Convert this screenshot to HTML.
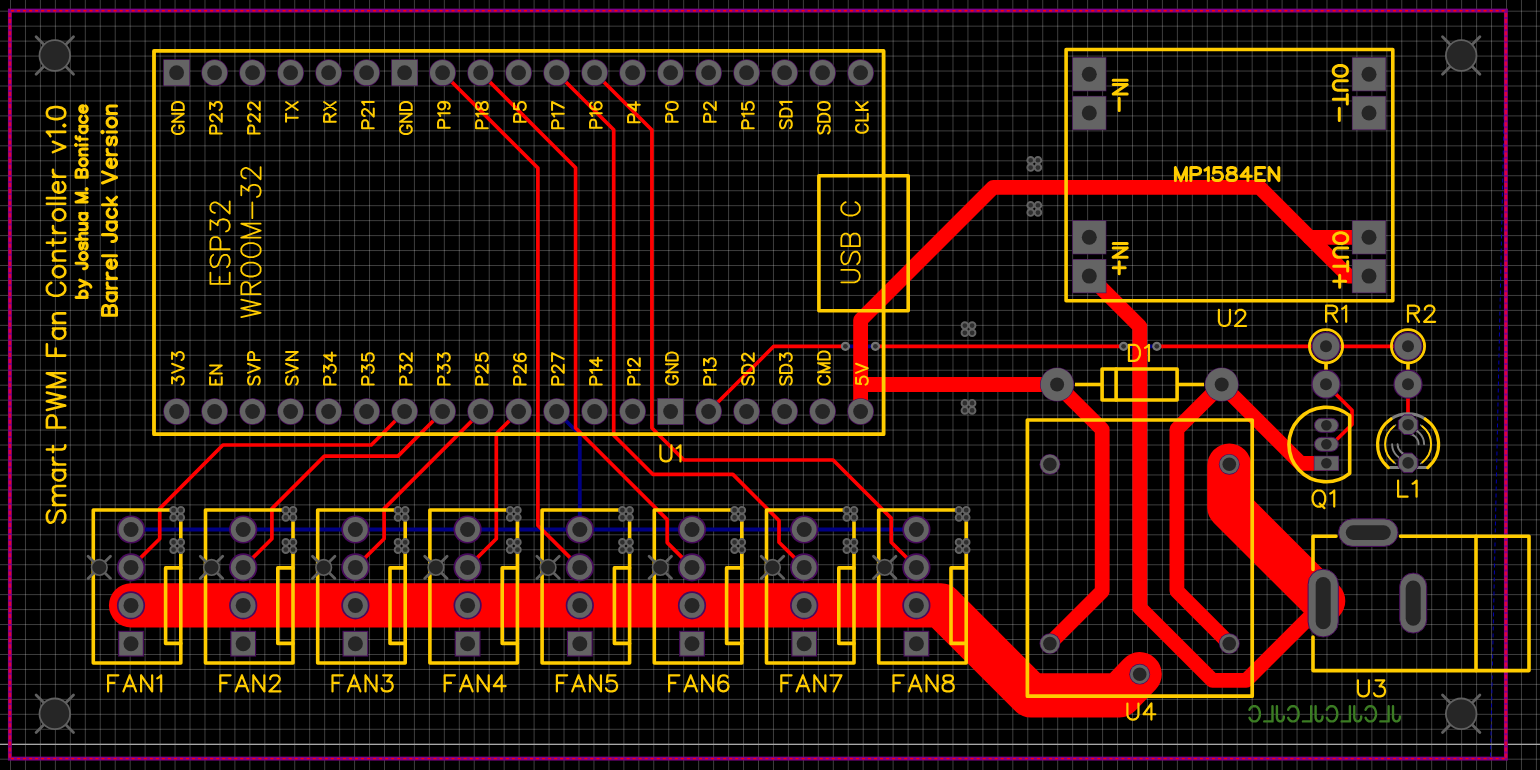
<!DOCTYPE html>
<html><head><meta charset="utf-8"><title>Smart PWM Fan Controller v1.0 - PCB</title>
<style>html,body{margin:0;padding:0;background:#000;overflow:hidden}svg{display:block}body{font-family:"Liberation Sans",sans-serif}</style>
</head><body>
<svg width="1540" height="770" viewBox="0 0 1540 770">
<rect width="1540" height="770" fill="#000"/>
<g fill="none" stroke="#fff" stroke-width="1" stroke-opacity="0.245"><path d="M10.50,0V770M25.46,0V770M40.42,0V770M55.38,0V770M70.34,0V770M85.30,0V770M100.26,0V770M115.22,0V770M130.18,0V770M145.14,0V770M160.10,0V770M175.06,0V770M190.02,0V770M204.98,0V770M219.94,0V770M234.90,0V770M249.86,0V770M264.82,0V770M279.78,0V770M294.74,0V770M309.70,0V770M324.66,0V770M339.62,0V770M354.58,0V770M369.54,0V770M384.50,0V770M399.46,0V770M414.42,0V770M429.38,0V770M444.34,0V770M459.30,0V770M474.26,0V770M489.22,0V770M504.18,0V770M519.14,0V770M534.10,0V770M549.06,0V770M564.02,0V770M578.98,0V770M593.94,0V770M608.90,0V770M623.86,0V770M638.82,0V770M653.78,0V770M668.74,0V770M683.70,0V770M698.66,0V770M713.62,0V770M728.58,0V770M743.54,0V770M758.50,0V770M773.46,0V770M788.42,0V770M803.38,0V770M818.34,0V770M833.30,0V770M848.26,0V770M863.22,0V770M878.18,0V770M893.14,0V770M908.10,0V770M923.06,0V770M938.02,0V770M952.98,0V770M967.94,0V770M982.90,0V770M997.86,0V770M1012.82,0V770M1027.78,0V770M1042.74,0V770M1057.70,0V770M1072.66,0V770M1087.62,0V770M1102.58,0V770M1117.54,0V770M1132.50,0V770M1147.46,0V770M1162.42,0V770M1177.38,0V770M1192.34,0V770M1207.30,0V770M1222.26,0V770M1237.22,0V770M1252.18,0V770M1267.14,0V770M1282.10,0V770M1297.06,0V770M1312.02,0V770M1326.98,0V770M1341.94,0V770M1356.90,0V770M1371.86,0V770M1386.82,0V770M1401.78,0V770M1416.74,0V770M1431.70,0V770M1446.66,0V770M1461.62,0V770M1476.58,0V770M1491.54,0V770M1506.50,0V770M1521.46,0V770M1536.42,0V770"/><path d="M0,11.20H1540M0,26.16H1540M0,41.12H1540M0,56.08H1540M0,71.04H1540M0,86.00H1540M0,100.96H1540M0,115.92H1540M0,130.88H1540M0,145.84H1540M0,160.80H1540M0,175.76H1540M0,190.72H1540M0,205.68H1540M0,220.64H1540M0,235.60H1540M0,250.56H1540M0,265.52H1540M0,280.48H1540M0,295.44H1540M0,310.40H1540M0,325.36H1540M0,340.32H1540M0,355.28H1540M0,370.24H1540M0,385.20H1540M0,400.16H1540M0,415.12H1540M0,430.08H1540M0,445.04H1540M0,460.00H1540M0,474.96H1540M0,489.92H1540M0,504.88H1540M0,519.84H1540M0,534.80H1540M0,549.76H1540M0,564.72H1540M0,579.68H1540M0,594.64H1540M0,609.60H1540M0,624.56H1540M0,639.52H1540M0,654.48H1540M0,669.44H1540M0,684.40H1540M0,699.36H1540M0,714.32H1540M0,729.28H1540M0,744.24H1540M0,759.20H1540"/></g>
<path d="M0,744.4H1540" stroke="#a8a8a8" stroke-width="1.1" fill="none"/>
<path d="M1506.3,10.6L1490.5,757.5" stroke="#0000b0" stroke-width="1" stroke-dasharray="4,3" fill="none"/>
<rect x="9.9" y="10.6" width="1496" height="748" fill="none" stroke="#800088" stroke-width="3.9"/>
<path d="M11,10.7H1505.9M11,758.6H1505.9" fill="none" stroke="#ff0000" stroke-width="1.4" stroke-dasharray="3,3.035"/>
<path d="M9.9,13V758M1505.9,13V758" fill="none" stroke="#e00038" stroke-width="2.5" stroke-dasharray="4.1,1.97"/>
<path d="M131.0,529.5 L916.4,529.5" stroke="#000084" stroke-width="3.80" fill="none" stroke-linecap="round" stroke-linejoin="round" />
<path d="M556.6,411.5 L579.8,434.7 L579.8,529.5" stroke="#000084" stroke-width="3.80" fill="none" stroke-linecap="round" stroke-linejoin="round" />
<path d="M845.4,346.3 L875.4,346.3" stroke="#000084" stroke-width="3.80" fill="none" stroke-linecap="round" stroke-linejoin="round" />
<path d="M1123.6,346.3 L1156.8,346.3" stroke="#000084" stroke-width="3.80" fill="none" stroke-linecap="round" stroke-linejoin="round" />
<path d="M131.0,567.4 L159.7,538.7 L159.7,508.6 L222.9,445.0 L371.3,445.0 L404.6,411.5" stroke="#ff0000" stroke-width="3.70" fill="none" stroke-linecap="round" stroke-linejoin="round" />
<path d="M243.2,567.4 L271.9,538.7 L271.9,508.6 L324.4,456.1 L398.0,456.1 L442.6,411.5" stroke="#ff0000" stroke-width="3.70" fill="none" stroke-linecap="round" stroke-linejoin="round" />
<path d="M355.4,567.4 L384.1,538.7 L384.1,508.6 L480.6,412.1" stroke="#ff0000" stroke-width="3.70" fill="none" stroke-linecap="round" stroke-linejoin="round" />
<path d="M467.6,567.4 L496.3,538.7 L496.3,433.8 L518.6,411.5" stroke="#ff0000" stroke-width="3.70" fill="none" stroke-linecap="round" stroke-linejoin="round" />
<path d="M442.6,72.7 L537.9,168.0 L537.9,525.5 L579.8,567.4" stroke="#ff0000" stroke-width="3.70" fill="none" stroke-linecap="round" stroke-linejoin="round" />
<path d="M480.6,72.7 L575.6,167.7 L575.6,428.0 L667.2,519.6 L667.2,542.6 L692.0,567.4" stroke="#ff0000" stroke-width="3.70" fill="none" stroke-linecap="round" stroke-linejoin="round" />
<path d="M556.6,72.7 L613.7,129.8 L613.7,435.2 L652.8,474.3 L732.9,474.4 L779.0,520.5 L779.0,542.2 L804.2,567.4" stroke="#ff0000" stroke-width="3.70" fill="none" stroke-linecap="round" stroke-linejoin="round" />
<path d="M594.6,72.7 L651.9,130.0 L651.9,428.0 L683.9,460.0 L833.1,460.0 L891.2,518.1 L891.2,542.2 L916.4,567.4" stroke="#ff0000" stroke-width="3.70" fill="none" stroke-linecap="round" stroke-linejoin="round" />
<path d="M708.6,411.5 L773.8,346.3 L845.4,346.3" stroke="#ff0000" stroke-width="3.70" fill="none" stroke-linecap="round" stroke-linejoin="round" />
<path d="M875.4,346.3 L1123.6,346.3" stroke="#ff0000" stroke-width="3.70" fill="none" stroke-linecap="round" stroke-linejoin="round" />
<path d="M1156.8,346.3 L1326.0,346.3 L1408.0,346.3" stroke="#ff0000" stroke-width="3.70" fill="none" stroke-linecap="round" stroke-linejoin="round" />
<path d="M1326.0,384.2 L1352.0,410.2 L1352.0,424.5 L1332.0,444.3" stroke="#ff0000" stroke-width="3.70" fill="none" stroke-linecap="round" stroke-linejoin="round" />
<path d="M1408.0,384.2 L1408.0,424.7" stroke="#ff0000" stroke-width="3.70" fill="none" stroke-linecap="round" stroke-linejoin="round" />
<path d="M860.6,411.5 L860.6,319.9 L993.3,187.3 L1259.5,187.3 L1348.3,276.1 L1369.0,276.1" stroke="#ff0000" stroke-width="14.80" fill="none" stroke-linecap="round" stroke-linejoin="round" />
<path d="M1309.5,237.3 L1369.0,237.3" stroke="#ff0000" stroke-width="14.80" fill="none" stroke-linecap="round" stroke-linejoin="round" />
<path d="M860.6,384.5 L1057.1,384.5" stroke="#ff0000" stroke-width="14.80" fill="none" stroke-linecap="round" stroke-linejoin="round" />
<path d="M1057.1,384.5 L1102.2,429.6 L1102.2,591.3 L1049.9,643.6" stroke="#ff0000" stroke-width="14.80" fill="none" stroke-linecap="round" stroke-linejoin="round" />
<path d="M1089.3,276.1 L1139.8,326.6 L1139.8,607.7 L1212.4,680.3 L1246.3,680.3 L1323.2,603.4" stroke="#ff0000" stroke-width="14.80" fill="none" stroke-linecap="round" stroke-linejoin="round" />
<path d="M1221.7,384.5 L1176.9,429.3 L1176.9,591.1 L1229.3,643.6" stroke="#ff0000" stroke-width="14.80" fill="none" stroke-linecap="round" stroke-linejoin="round" />
<path d="M1221.7,384.5 L1300.5,463.3 L1326.4,463.3" stroke="#ff0000" stroke-width="14.80" fill="none" stroke-linecap="round" stroke-linejoin="round" />
<path d="M131.0,605.4 L941.0,605.4 L1030.9,695.3 L1119.5,695.3 L1139.7,674.2" stroke="#ff0000" stroke-width="44.20" fill="none" stroke-linecap="round" stroke-linejoin="round" />
<path d="M1229.3,465.6 L1229.3,507.0 L1323.2,600.9" stroke="#ff0000" stroke-width="44.20" fill="none" stroke-linecap="round" stroke-linejoin="round" />
<circle cx="845.4" cy="346.3" r="4.6" fill="#747474"/><circle cx="845.4" cy="346.3" r="2.4" fill="#2e2e2e"/>
<circle cx="875.4" cy="346.3" r="4.6" fill="#747474"/><circle cx="875.4" cy="346.3" r="2.4" fill="#2e2e2e"/>
<circle cx="1123.6" cy="346.3" r="4.6" fill="#747474"/><circle cx="1123.6" cy="346.3" r="2.4" fill="#2e2e2e"/>
<circle cx="1156.8" cy="346.3" r="4.6" fill="#747474"/><circle cx="1156.8" cy="346.3" r="2.4" fill="#2e2e2e"/>
<rect x="154.0" y="50.9" width="729.6" height="383.3" stroke="#ffcc00" stroke-width="3.80" fill="none" stroke-linejoin="round"/>
<rect x="818.9" y="175.7" width="89.3" height="135.1" stroke="#ffcc00" stroke-width="3.60" fill="none" stroke-linejoin="round"/>
<rect x="1066.1" y="49.5" width="326.7" height="251.2" stroke="#ffcc00" stroke-width="3.60" fill="none" stroke-linejoin="round"/>
<rect x="1102.1" y="369.0" width="75.0" height="31.0" stroke="#ffcc00" stroke-width="3.60" fill="none" stroke-linejoin="round"/>
<path d="M1116.1,369.0 L1116.1,400.0" stroke="#ffcc00" stroke-width="3.60" fill="none" stroke-linecap="round" stroke-linejoin="round"/>
<path d="M1075.0,384.5 L1102.0,384.5" stroke="#ffcc00" stroke-width="3.60" fill="none" stroke-linecap="butt" stroke-linejoin="round"/>
<path d="M1177.0,384.5 L1204.0,384.5" stroke="#ffcc00" stroke-width="3.60" fill="none" stroke-linecap="butt" stroke-linejoin="round"/>
<rect x="1027.4" y="420.0" width="224.8" height="276.2" stroke="#ffcc00" stroke-width="3.70" fill="none" stroke-linejoin="round"/>
<path d="M1336.0,536.2 L1313.0,536.2 L1313.0,569.4" stroke="#ffcc00" stroke-width="3.60" fill="none" stroke-linecap="round" stroke-linejoin="round"/>
<path d="M1313.0,637.0 L1313.0,670.6 L1529.0,670.6 L1529.0,536.2 L1400.5,536.2" stroke="#ffcc00" stroke-width="3.60" fill="none" stroke-linecap="round" stroke-linejoin="round"/>
<path d="M1476.0,536.2 L1476.0,670.6" stroke="#ffcc00" stroke-width="3.60" fill="none" stroke-linecap="round" stroke-linejoin="round"/>
<path d="M169.5,510.0 L93.3,510.0 L93.3,663.0 L180.8,663.0 L180.8,522.0" stroke="#ffcc00" stroke-width="3.60" fill="none" stroke-linecap="round" stroke-linejoin="round"/>
<path d="M180.8,567.9 L165.6,567.9 L165.6,643.4 L180.8,643.4" stroke="#ffcc00" stroke-width="3.60" fill="none" stroke-linecap="round" stroke-linejoin="round"/>
<path d="M281.7,510.0 L205.5,510.0 L205.5,663.0 L293.0,663.0 L293.0,522.0" stroke="#ffcc00" stroke-width="3.60" fill="none" stroke-linecap="round" stroke-linejoin="round"/>
<path d="M293.0,567.9 L277.8,567.9 L277.8,643.4 L293.0,643.4" stroke="#ffcc00" stroke-width="3.60" fill="none" stroke-linecap="round" stroke-linejoin="round"/>
<path d="M393.9,510.0 L317.7,510.0 L317.7,663.0 L405.2,663.0 L405.2,522.0" stroke="#ffcc00" stroke-width="3.60" fill="none" stroke-linecap="round" stroke-linejoin="round"/>
<path d="M405.2,567.9 L390.0,567.9 L390.0,643.4 L405.2,643.4" stroke="#ffcc00" stroke-width="3.60" fill="none" stroke-linecap="round" stroke-linejoin="round"/>
<path d="M506.1,510.0 L429.9,510.0 L429.9,663.0 L517.4,663.0 L517.4,522.0" stroke="#ffcc00" stroke-width="3.60" fill="none" stroke-linecap="round" stroke-linejoin="round"/>
<path d="M517.4,567.9 L502.2,567.9 L502.2,643.4 L517.4,643.4" stroke="#ffcc00" stroke-width="3.60" fill="none" stroke-linecap="round" stroke-linejoin="round"/>
<path d="M618.3,510.0 L542.1,510.0 L542.1,663.0 L629.6,663.0 L629.6,522.0" stroke="#ffcc00" stroke-width="3.60" fill="none" stroke-linecap="round" stroke-linejoin="round"/>
<path d="M629.6,567.9 L614.4,567.9 L614.4,643.4 L629.6,643.4" stroke="#ffcc00" stroke-width="3.60" fill="none" stroke-linecap="round" stroke-linejoin="round"/>
<path d="M730.5,510.0 L654.3,510.0 L654.3,663.0 L741.8,663.0 L741.8,522.0" stroke="#ffcc00" stroke-width="3.60" fill="none" stroke-linecap="round" stroke-linejoin="round"/>
<path d="M741.8,567.9 L726.6,567.9 L726.6,643.4 L741.8,643.4" stroke="#ffcc00" stroke-width="3.60" fill="none" stroke-linecap="round" stroke-linejoin="round"/>
<path d="M842.7,510.0 L766.5,510.0 L766.5,663.0 L854.0,663.0 L854.0,522.0" stroke="#ffcc00" stroke-width="3.60" fill="none" stroke-linecap="round" stroke-linejoin="round"/>
<path d="M854.0,567.9 L838.8,567.9 L838.8,643.4 L854.0,643.4" stroke="#ffcc00" stroke-width="3.60" fill="none" stroke-linecap="round" stroke-linejoin="round"/>
<path d="M954.9,510.0 L878.7,510.0 L878.7,663.0 L966.2,663.0 L966.2,522.0" stroke="#ffcc00" stroke-width="3.60" fill="none" stroke-linecap="round" stroke-linejoin="round"/>
<path d="M966.2,567.9 L951.0,567.9 L951.0,643.4 L966.2,643.4" stroke="#ffcc00" stroke-width="3.60" fill="none" stroke-linecap="round" stroke-linejoin="round"/>
<circle cx="1326.0" cy="346.3" r="16.6" stroke="#ffcc00" stroke-width="2.8" fill="none"/>
<path d="M1326.0,363.5 L1326.0,370.0" stroke="#ffcc00" stroke-width="3.60" fill="none" stroke-linecap="butt" stroke-linejoin="round"/>
<circle cx="1408.0" cy="346.3" r="16.6" stroke="#ffcc00" stroke-width="2.8" fill="none"/>
<path d="M1408.0,363.5 L1408.0,370.0" stroke="#ffcc00" stroke-width="3.60" fill="none" stroke-linecap="butt" stroke-linejoin="round"/>
<path d="M1349.7,415.7 A37.2,37.2 0 1 0 1349.7,473.3 Z" stroke="#ffcc00" stroke-width="3.60" fill="none" stroke-linejoin="round"/>
<path d="M1391.04,419.01 A30.50,30.50 0 0 1 1425.16,419.01" stroke="#808080" stroke-width="3.00" fill="none" stroke-linecap="round"/>
<path d="M1389.5,467.6 L1427.0,467.6" stroke="#808080" stroke-width="3.00" fill="none" stroke-linecap="butt" stroke-linejoin="round"/>
<path d="M1425.16,419.01 A30.50,30.50 0 0 1 1427.71,467.66" stroke="#ffcc00" stroke-width="3.20" fill="none" stroke-linecap="round"/>
<path d="M1388.49,467.66 A30.50,30.50 0 0 1 1391.04,419.01" stroke="#ffcc00" stroke-width="3.20" fill="none" stroke-linecap="round"/>
<path d="M1420.63,425.01 A23.00,23.00 0 0 1 1420.63,463.59" stroke="#808080" stroke-width="1.50" fill="none" stroke-linecap="round"/>
<path d="M1395.57,463.59 A23.00,23.00 0 0 1 1395.57,425.01" stroke="#808080" stroke-width="1.50" fill="none" stroke-linecap="round"/>
<path d="M1422.26,426.18 A23.00,23.00 0 0 1 1422.26,462.42" stroke="#ffcc00" stroke-width="1.90" fill="none" stroke-linecap="round"/>
<path d="M1393.94,462.42 A23.00,23.00 0 0 1 1393.94,426.18" stroke="#ffcc00" stroke-width="1.90" fill="none" stroke-linecap="round"/>
<path d="M1408.10,428.30 A16.00,16.00 0 0 1 1424.10,444.30" stroke="#808080" stroke-width="1.90" fill="none" stroke-linecap="round"/>
<path d="M1408.10,433.80 A10.50,10.50 0 0 1 1418.60,444.30" stroke="#808080" stroke-width="1.90" fill="none" stroke-linecap="round"/>
<path d="M1408.10,460.30 A16.00,16.00 0 0 1 1392.10,444.30" stroke="#808080" stroke-width="1.90" fill="none" stroke-linecap="round"/>
<path d="M1408.10,454.80 A10.50,10.50 0 0 1 1397.60,444.30" stroke="#808080" stroke-width="1.90" fill="none" stroke-linecap="round"/>
<path d="M-23.41,-8.91 -23.99,-10.03 -25.13,-11.14 -26.28,-11.70 -28.58,-11.70 -29.73,-11.14 -30.87,-10.03 -31.45,-8.91 -32.02,-7.24 -32.02,-4.46 -31.45,-2.79 -30.87,-1.67 -29.73,-0.56 -28.58,-0.00 -26.28,-0.00 -25.13,-0.56 -23.99,-1.67 -23.41,-2.79 -23.41,-4.46M-26.28,-4.46 -23.41,-4.46M-19.74,-11.70 -19.74,-0.00M-19.74,-11.70 -11.71,-0.00M-11.71,-11.70 -11.71,-0.00M-8.03,-11.70 -8.03,-0.00M-8.03,-11.70 -4.02,-11.70 -2.30,-11.14 -1.15,-10.03 -0.57,-8.91 0.00,-7.24 0.00,-4.46 -0.57,-2.79 -1.15,-1.67 -2.30,-0.56 -4.02,-0.00 -8.03,-0.00" transform="translate(183.75,102.00) rotate(-90)" stroke="#ffcc00" stroke-width="2.00" fill="none" stroke-linecap="round" stroke-linejoin="round"/>
<path d="M-31.45,-11.70 -31.45,-0.00M-31.45,-11.70 -26.28,-11.70 -24.56,-11.14 -23.99,-10.59 -23.41,-9.47 -23.41,-7.80 -23.99,-6.69 -24.56,-6.13 -26.28,-5.57 -31.45,-5.57M-19.17,-8.91 -19.17,-9.47 -18.59,-10.59 -18.02,-11.14 -16.87,-11.70 -14.58,-11.70 -13.43,-11.14 -12.85,-10.59 -12.28,-9.47 -12.28,-8.36 -12.85,-7.24 -14.00,-5.57 -19.74,-0.00 -11.71,-0.00M-6.89,-11.70 -0.57,-11.70 -4.02,-7.24 -2.30,-7.24 -1.15,-6.69 -0.57,-6.13 0.00,-4.46 0.00,-3.34 -0.57,-1.67 -1.72,-0.56 -3.44,-0.00 -5.16,-0.00 -6.89,-0.56 -7.46,-1.11 -8.03,-2.23" transform="translate(221.75,102.00) rotate(-90)" stroke="#ffcc00" stroke-width="2.00" fill="none" stroke-linecap="round" stroke-linejoin="round"/>
<path d="M-31.45,-11.70 -31.45,-0.00M-31.45,-11.70 -26.28,-11.70 -24.56,-11.14 -23.99,-10.59 -23.41,-9.47 -23.41,-7.80 -23.99,-6.69 -24.56,-6.13 -26.28,-5.57 -31.45,-5.57M-19.17,-8.91 -19.17,-9.47 -18.59,-10.59 -18.02,-11.14 -16.87,-11.70 -14.58,-11.70 -13.43,-11.14 -12.85,-10.59 -12.28,-9.47 -12.28,-8.36 -12.85,-7.24 -14.00,-5.57 -19.74,-0.00 -11.71,-0.00M-7.46,-8.91 -7.46,-9.47 -6.89,-10.59 -6.31,-11.14 -5.16,-11.70 -2.87,-11.70 -1.72,-11.14 -1.15,-10.59 -0.57,-9.47 -0.57,-8.36 -1.15,-7.24 -2.30,-5.57 -8.03,-0.00 0.00,-0.00" transform="translate(259.75,102.00) rotate(-90)" stroke="#ffcc00" stroke-width="2.00" fill="none" stroke-linecap="round" stroke-linejoin="round"/>
<path d="M-15.72,-11.70 -15.72,-0.00M-19.74,-11.70 -11.71,-11.70M-8.03,-11.70 0.00,-0.00M0.00,-11.70 -8.03,-0.00" transform="translate(297.75,102.00) rotate(-90)" stroke="#ffcc00" stroke-width="2.00" fill="none" stroke-linecap="round" stroke-linejoin="round"/>
<path d="M-19.74,-11.70 -19.74,-0.00M-19.74,-11.70 -14.58,-11.70 -12.85,-11.14 -12.28,-10.59 -11.71,-9.47 -11.71,-8.36 -12.28,-7.24 -12.85,-6.69 -14.58,-6.13 -19.74,-6.13M-15.72,-6.13 -11.71,-0.00M-8.03,-11.70 0.00,-0.00M0.00,-11.70 -8.03,-0.00" transform="translate(335.75,102.00) rotate(-90)" stroke="#ffcc00" stroke-width="2.00" fill="none" stroke-linecap="round" stroke-linejoin="round"/>
<path d="M-26.28,-11.70 -26.28,-0.00M-26.28,-11.70 -21.12,-11.70 -19.40,-11.14 -18.82,-10.59 -18.25,-9.47 -18.25,-7.80 -18.82,-6.69 -19.40,-6.13 -21.12,-5.57 -26.28,-5.57M-14.00,-8.91 -14.00,-9.47 -13.43,-10.59 -12.85,-11.14 -11.71,-11.70 -9.41,-11.70 -8.26,-11.14 -7.69,-10.59 -7.12,-9.47 -7.12,-8.36 -7.69,-7.24 -8.84,-5.57 -14.58,-0.00 -6.54,-0.00M-2.87,-9.47 -1.72,-10.03 0.00,-11.70 0.00,-0.00" transform="translate(373.75,102.00) rotate(-90)" stroke="#ffcc00" stroke-width="2.00" fill="none" stroke-linecap="round" stroke-linejoin="round"/>
<path d="M-23.41,-8.91 -23.99,-10.03 -25.13,-11.14 -26.28,-11.70 -28.58,-11.70 -29.73,-11.14 -30.87,-10.03 -31.45,-8.91 -32.02,-7.24 -32.02,-4.46 -31.45,-2.79 -30.87,-1.67 -29.73,-0.56 -28.58,-0.00 -26.28,-0.00 -25.13,-0.56 -23.99,-1.67 -23.41,-2.79 -23.41,-4.46M-26.28,-4.46 -23.41,-4.46M-19.74,-11.70 -19.74,-0.00M-19.74,-11.70 -11.71,-0.00M-11.71,-11.70 -11.71,-0.00M-8.03,-11.70 -8.03,-0.00M-8.03,-11.70 -4.02,-11.70 -2.30,-11.14 -1.15,-10.03 -0.57,-8.91 0.00,-7.24 0.00,-4.46 -0.57,-2.79 -1.15,-1.67 -2.30,-0.56 -4.02,-0.00 -8.03,-0.00" transform="translate(411.75,102.00) rotate(-90)" stroke="#ffcc00" stroke-width="2.00" fill="none" stroke-linecap="round" stroke-linejoin="round"/>
<path d="M-25.71,-11.70 -25.71,-0.00M-25.71,-11.70 -20.54,-11.70 -18.82,-11.14 -18.25,-10.59 -17.67,-9.47 -17.67,-7.80 -18.25,-6.69 -18.82,-6.13 -20.54,-5.57 -25.71,-5.57M-14.00,-9.47 -12.85,-10.03 -11.13,-11.70 -11.13,-0.00M0.00,-7.80 -0.57,-6.13 -1.72,-5.01 -3.44,-4.46 -4.02,-4.46 -5.74,-5.01 -6.89,-6.13 -7.46,-7.80 -7.46,-8.36 -6.89,-10.03 -5.74,-11.14 -4.02,-11.70 -3.44,-11.70 -1.72,-11.14 -0.57,-10.03 0.00,-7.80 0.00,-5.01 -0.57,-2.23 -1.72,-0.56 -3.44,-0.00 -4.59,-0.00 -6.31,-0.56 -6.89,-1.67" transform="translate(449.75,102.00) rotate(-90)" stroke="#ffcc00" stroke-width="2.00" fill="none" stroke-linecap="round" stroke-linejoin="round"/>
<path d="M-26.28,-11.70 -26.28,-0.00M-26.28,-11.70 -21.12,-11.70 -19.40,-11.14 -18.82,-10.59 -18.25,-9.47 -18.25,-7.80 -18.82,-6.69 -19.40,-6.13 -21.12,-5.57 -26.28,-5.57M-14.58,-9.47 -13.43,-10.03 -11.71,-11.70 -11.71,-0.00M-5.16,-11.70 -6.89,-11.14 -7.46,-10.03 -7.46,-8.91 -6.89,-7.80 -5.74,-7.24 -3.44,-6.69 -1.72,-6.13 -0.57,-5.01 0.00,-3.90 0.00,-2.23 -0.57,-1.11 -1.15,-0.56 -2.87,-0.00 -5.16,-0.00 -6.89,-0.56 -7.46,-1.11 -8.03,-2.23 -8.03,-3.90 -7.46,-5.01 -6.31,-6.13 -4.59,-6.69 -2.30,-7.24 -1.15,-7.80 -0.57,-8.91 -0.57,-10.03 -1.15,-11.14 -2.87,-11.70 -5.16,-11.70" transform="translate(487.75,102.00) rotate(-90)" stroke="#ffcc00" stroke-width="2.00" fill="none" stroke-linecap="round" stroke-linejoin="round"/>
<path d="M-19.74,-11.70 -19.74,-0.00M-19.74,-11.70 -14.58,-11.70 -12.85,-11.14 -12.28,-10.59 -11.71,-9.47 -11.71,-7.80 -12.28,-6.69 -12.85,-6.13 -14.58,-5.57 -19.74,-5.57M-1.15,-11.70 -6.89,-11.70 -7.46,-6.69 -6.89,-7.24 -5.16,-7.80 -3.44,-7.80 -1.72,-7.24 -0.57,-6.13 0.00,-4.46 0.00,-3.34 -0.57,-1.67 -1.72,-0.56 -3.44,-0.00 -5.16,-0.00 -6.89,-0.56 -7.46,-1.11 -8.03,-2.23" transform="translate(525.75,102.00) rotate(-90)" stroke="#ffcc00" stroke-width="2.00" fill="none" stroke-linecap="round" stroke-linejoin="round"/>
<path d="M-26.28,-11.70 -26.28,-0.00M-26.28,-11.70 -21.12,-11.70 -19.40,-11.14 -18.82,-10.59 -18.25,-9.47 -18.25,-7.80 -18.82,-6.69 -19.40,-6.13 -21.12,-5.57 -26.28,-5.57M-14.58,-9.47 -13.43,-10.03 -11.71,-11.70 -11.71,-0.00M0.00,-11.70 -5.74,-0.00M-8.03,-11.70 0.00,-11.70" transform="translate(563.75,102.00) rotate(-90)" stroke="#ffcc00" stroke-width="2.00" fill="none" stroke-linecap="round" stroke-linejoin="round"/>
<path d="M-25.71,-11.70 -25.71,-0.00M-25.71,-11.70 -20.54,-11.70 -18.82,-11.14 -18.25,-10.59 -17.67,-9.47 -17.67,-7.80 -18.25,-6.69 -18.82,-6.13 -20.54,-5.57 -25.71,-5.57M-14.00,-9.47 -12.85,-10.03 -11.13,-11.70 -11.13,-0.00M-0.57,-10.03 -1.15,-11.14 -2.87,-11.70 -4.02,-11.70 -5.74,-11.14 -6.89,-9.47 -7.46,-6.69 -7.46,-3.90 -6.89,-1.67 -5.74,-0.56 -4.02,-0.00 -3.44,-0.00 -1.72,-0.56 -0.57,-1.67 0.00,-3.34 0.00,-3.90 -0.57,-5.57 -1.72,-6.69 -3.44,-7.24 -4.02,-7.24 -5.74,-6.69 -6.89,-5.57 -7.46,-3.90" transform="translate(601.75,102.00) rotate(-90)" stroke="#ffcc00" stroke-width="2.00" fill="none" stroke-linecap="round" stroke-linejoin="round"/>
<path d="M-20.31,-11.70 -20.31,-0.00M-20.31,-11.70 -15.15,-11.70 -13.43,-11.14 -12.85,-10.59 -12.28,-9.47 -12.28,-7.80 -12.85,-6.69 -13.43,-6.13 -15.15,-5.57 -20.31,-5.57M-2.87,-11.70 -8.61,-3.90 0.00,-3.90M-2.87,-11.70 -2.87,-0.00" transform="translate(639.75,102.00) rotate(-90)" stroke="#ffcc00" stroke-width="2.00" fill="none" stroke-linecap="round" stroke-linejoin="round"/>
<path d="M-19.74,-11.70 -19.74,-0.00M-19.74,-11.70 -14.58,-11.70 -12.85,-11.14 -12.28,-10.59 -11.71,-9.47 -11.71,-7.80 -12.28,-6.69 -12.85,-6.13 -14.58,-5.57 -19.74,-5.57M-4.59,-11.70 -6.31,-11.14 -7.46,-9.47 -8.03,-6.69 -8.03,-5.01 -7.46,-2.23 -6.31,-0.56 -4.59,-0.00 -3.44,-0.00 -1.72,-0.56 -0.57,-2.23 0.00,-5.01 0.00,-6.69 -0.57,-9.47 -1.72,-11.14 -3.44,-11.70 -4.59,-11.70" transform="translate(677.75,102.00) rotate(-90)" stroke="#ffcc00" stroke-width="2.00" fill="none" stroke-linecap="round" stroke-linejoin="round"/>
<path d="M-19.74,-11.70 -19.74,-0.00M-19.74,-11.70 -14.58,-11.70 -12.85,-11.14 -12.28,-10.59 -11.71,-9.47 -11.71,-7.80 -12.28,-6.69 -12.85,-6.13 -14.58,-5.57 -19.74,-5.57M-7.46,-8.91 -7.46,-9.47 -6.89,-10.59 -6.31,-11.14 -5.16,-11.70 -2.87,-11.70 -1.72,-11.14 -1.15,-10.59 -0.57,-9.47 -0.57,-8.36 -1.15,-7.24 -2.30,-5.57 -8.03,-0.00 0.00,-0.00" transform="translate(715.75,102.00) rotate(-90)" stroke="#ffcc00" stroke-width="2.00" fill="none" stroke-linecap="round" stroke-linejoin="round"/>
<path d="M-26.28,-11.70 -26.28,-0.00M-26.28,-11.70 -21.12,-11.70 -19.40,-11.14 -18.82,-10.59 -18.25,-9.47 -18.25,-7.80 -18.82,-6.69 -19.40,-6.13 -21.12,-5.57 -26.28,-5.57M-14.58,-9.47 -13.43,-10.03 -11.71,-11.70 -11.71,-0.00M-1.15,-11.70 -6.89,-11.70 -7.46,-6.69 -6.89,-7.24 -5.16,-7.80 -3.44,-7.80 -1.72,-7.24 -0.57,-6.13 0.00,-4.46 0.00,-3.34 -0.57,-1.67 -1.72,-0.56 -3.44,-0.00 -5.16,-0.00 -6.89,-0.56 -7.46,-1.11 -8.03,-2.23" transform="translate(753.75,102.00) rotate(-90)" stroke="#ffcc00" stroke-width="2.00" fill="none" stroke-linecap="round" stroke-linejoin="round"/>
<path d="M-18.25,-10.03 -19.40,-11.14 -21.12,-11.70 -23.41,-11.70 -25.13,-11.14 -26.28,-10.03 -26.28,-8.91 -25.71,-7.80 -25.13,-7.24 -23.99,-6.69 -20.54,-5.57 -19.40,-5.01 -18.82,-4.46 -18.25,-3.34 -18.25,-1.67 -19.40,-0.56 -21.12,-0.00 -23.41,-0.00 -25.13,-0.56 -26.28,-1.67M-14.58,-11.70 -14.58,-0.00M-14.58,-11.70 -10.56,-11.70 -8.84,-11.14 -7.69,-10.03 -7.12,-8.91 -6.54,-7.24 -6.54,-4.46 -7.12,-2.79 -7.69,-1.67 -8.84,-0.56 -10.56,-0.00 -14.58,-0.00M-2.87,-9.47 -1.72,-10.03 0.00,-11.70 0.00,-0.00" transform="translate(791.75,102.00) rotate(-90)" stroke="#ffcc00" stroke-width="2.00" fill="none" stroke-linecap="round" stroke-linejoin="round"/>
<path d="M-23.41,-10.03 -24.56,-11.14 -26.28,-11.70 -28.58,-11.70 -30.30,-11.14 -31.45,-10.03 -31.45,-8.91 -30.87,-7.80 -30.30,-7.24 -29.15,-6.69 -25.71,-5.57 -24.56,-5.01 -23.99,-4.46 -23.41,-3.34 -23.41,-1.67 -24.56,-0.56 -26.28,-0.00 -28.58,-0.00 -30.30,-0.56 -31.45,-1.67M-19.74,-11.70 -19.74,-0.00M-19.74,-11.70 -15.72,-11.70 -14.00,-11.14 -12.85,-10.03 -12.28,-8.91 -11.71,-7.24 -11.71,-4.46 -12.28,-2.79 -12.85,-1.67 -14.00,-0.56 -15.72,-0.00 -19.74,-0.00M-4.59,-11.70 -6.31,-11.14 -7.46,-9.47 -8.03,-6.69 -8.03,-5.01 -7.46,-2.23 -6.31,-0.56 -4.59,-0.00 -3.44,-0.00 -1.72,-0.56 -0.57,-2.23 0.00,-5.01 0.00,-6.69 -0.57,-9.47 -1.72,-11.14 -3.44,-11.70 -4.59,-11.70" transform="translate(829.75,102.00) rotate(-90)" stroke="#ffcc00" stroke-width="2.00" fill="none" stroke-linecap="round" stroke-linejoin="round"/>
<path d="M-22.27,-8.91 -22.84,-10.03 -23.99,-11.14 -25.13,-11.70 -27.43,-11.70 -28.58,-11.14 -29.73,-10.03 -30.30,-8.91 -30.87,-7.24 -30.87,-4.46 -30.30,-2.79 -29.73,-1.67 -28.58,-0.56 -27.43,-0.00 -25.13,-0.00 -23.99,-0.56 -22.84,-1.67 -22.27,-2.79M-18.59,-11.70 -18.59,-0.00M-18.59,-0.00 -11.71,-0.00M-8.03,-11.70 -8.03,-0.00M0.00,-11.70 -8.03,-3.90M-5.16,-6.69 0.00,-0.00" transform="translate(867.75,102.00) rotate(-90)" stroke="#ffcc00" stroke-width="2.00" fill="none" stroke-linecap="round" stroke-linejoin="round"/>
<path d="M1.15,-11.70 7.46,-11.70 4.02,-7.24 5.74,-7.24 6.89,-6.69 7.46,-6.13 8.03,-4.46 8.03,-3.34 7.46,-1.67 6.31,-0.56 4.59,-0.00 2.87,-0.00 1.15,-0.56 0.57,-1.11 0.00,-2.23M11.71,-11.70 16.30,-0.00M20.89,-11.70 16.30,-0.00M25.71,-11.70 32.02,-11.70 28.58,-7.24 30.30,-7.24 31.45,-6.69 32.02,-6.13 32.60,-4.46 32.60,-3.34 32.02,-1.67 30.87,-0.56 29.15,-0.00 27.43,-0.00 25.71,-0.56 25.13,-1.11 24.56,-2.23" transform="translate(183.75,384.60) rotate(-90)" stroke="#ffcc00" stroke-width="2.00" fill="none" stroke-linecap="round" stroke-linejoin="round"/>
<path d="M0.00,-11.70 0.00,-0.00M0.00,-11.70 7.46,-11.70M0.00,-6.13 4.59,-6.13M0.00,-0.00 7.46,-0.00M11.13,-11.70 11.13,-0.00M11.13,-11.70 19.17,-0.00M19.17,-11.70 19.17,-0.00" transform="translate(221.75,384.60) rotate(-90)" stroke="#ffcc00" stroke-width="2.00" fill="none" stroke-linecap="round" stroke-linejoin="round"/>
<path d="M8.03,-10.03 6.89,-11.14 5.16,-11.70 2.87,-11.70 1.15,-11.14 0.00,-10.03 0.00,-8.91 0.57,-7.80 1.15,-7.24 2.30,-6.69 5.74,-5.57 6.89,-5.01 7.46,-4.46 8.03,-3.34 8.03,-1.67 6.89,-0.56 5.16,-0.00 2.87,-0.00 1.15,-0.56 0.00,-1.67M11.71,-11.70 16.30,-0.00M20.89,-11.70 16.30,-0.00M24.56,-11.70 24.56,-0.00M24.56,-11.70 29.73,-11.70 31.45,-11.14 32.02,-10.59 32.60,-9.47 32.60,-7.80 32.02,-6.69 31.45,-6.13 29.73,-5.57 24.56,-5.57" transform="translate(259.75,384.60) rotate(-90)" stroke="#ffcc00" stroke-width="2.00" fill="none" stroke-linecap="round" stroke-linejoin="round"/>
<path d="M8.03,-10.03 6.89,-11.14 5.16,-11.70 2.87,-11.70 1.15,-11.14 0.00,-10.03 0.00,-8.91 0.57,-7.80 1.15,-7.24 2.30,-6.69 5.74,-5.57 6.89,-5.01 7.46,-4.46 8.03,-3.34 8.03,-1.67 6.89,-0.56 5.16,-0.00 2.87,-0.00 1.15,-0.56 0.00,-1.67M11.71,-11.70 16.30,-0.00M20.89,-11.70 16.30,-0.00M24.56,-11.70 24.56,-0.00M24.56,-11.70 32.60,-0.00M32.60,-11.70 32.60,-0.00" transform="translate(297.75,384.60) rotate(-90)" stroke="#ffcc00" stroke-width="2.00" fill="none" stroke-linecap="round" stroke-linejoin="round"/>
<path d="M0.00,-11.70 0.00,-0.00M0.00,-11.70 5.16,-11.70 6.89,-11.14 7.46,-10.59 8.03,-9.47 8.03,-7.80 7.46,-6.69 6.89,-6.13 5.16,-5.57 0.00,-5.57M12.85,-11.70 19.17,-11.70 15.72,-7.24 17.45,-7.24 18.59,-6.69 19.17,-6.13 19.74,-4.46 19.74,-3.34 19.17,-1.67 18.02,-0.56 16.30,-0.00 14.58,-0.00 12.85,-0.56 12.28,-1.11 11.71,-2.23M29.15,-11.70 23.41,-3.90 32.02,-3.90M29.15,-11.70 29.15,-0.00" transform="translate(335.75,384.60) rotate(-90)" stroke="#ffcc00" stroke-width="2.00" fill="none" stroke-linecap="round" stroke-linejoin="round"/>
<path d="M0.00,-11.70 0.00,-0.00M0.00,-11.70 5.16,-11.70 6.89,-11.14 7.46,-10.59 8.03,-9.47 8.03,-7.80 7.46,-6.69 6.89,-6.13 5.16,-5.57 0.00,-5.57M12.85,-11.70 19.17,-11.70 15.72,-7.24 17.45,-7.24 18.59,-6.69 19.17,-6.13 19.74,-4.46 19.74,-3.34 19.17,-1.67 18.02,-0.56 16.30,-0.00 14.58,-0.00 12.85,-0.56 12.28,-1.11 11.71,-2.23M30.30,-11.70 24.56,-11.70 23.99,-6.69 24.56,-7.24 26.28,-7.80 28.00,-7.80 29.73,-7.24 30.87,-6.13 31.45,-4.46 31.45,-3.34 30.87,-1.67 29.73,-0.56 28.00,-0.00 26.28,-0.00 24.56,-0.56 23.99,-1.11 23.41,-2.23" transform="translate(373.75,384.60) rotate(-90)" stroke="#ffcc00" stroke-width="2.00" fill="none" stroke-linecap="round" stroke-linejoin="round"/>
<path d="M0.00,-11.70 0.00,-0.00M0.00,-11.70 5.16,-11.70 6.89,-11.14 7.46,-10.59 8.03,-9.47 8.03,-7.80 7.46,-6.69 6.89,-6.13 5.16,-5.57 0.00,-5.57M12.85,-11.70 19.17,-11.70 15.72,-7.24 17.45,-7.24 18.59,-6.69 19.17,-6.13 19.74,-4.46 19.74,-3.34 19.17,-1.67 18.02,-0.56 16.30,-0.00 14.58,-0.00 12.85,-0.56 12.28,-1.11 11.71,-2.23M23.99,-8.91 23.99,-9.47 24.56,-10.59 25.13,-11.14 26.28,-11.70 28.58,-11.70 29.73,-11.14 30.30,-10.59 30.87,-9.47 30.87,-8.36 30.30,-7.24 29.15,-5.57 23.41,-0.00 31.45,-0.00" transform="translate(411.75,384.60) rotate(-90)" stroke="#ffcc00" stroke-width="2.00" fill="none" stroke-linecap="round" stroke-linejoin="round"/>
<path d="M0.00,-11.70 0.00,-0.00M0.00,-11.70 5.16,-11.70 6.89,-11.14 7.46,-10.59 8.03,-9.47 8.03,-7.80 7.46,-6.69 6.89,-6.13 5.16,-5.57 0.00,-5.57M12.85,-11.70 19.17,-11.70 15.72,-7.24 17.45,-7.24 18.59,-6.69 19.17,-6.13 19.74,-4.46 19.74,-3.34 19.17,-1.67 18.02,-0.56 16.30,-0.00 14.58,-0.00 12.85,-0.56 12.28,-1.11 11.71,-2.23M24.56,-11.70 30.87,-11.70 27.43,-7.24 29.15,-7.24 30.30,-6.69 30.87,-6.13 31.45,-4.46 31.45,-3.34 30.87,-1.67 29.73,-0.56 28.00,-0.00 26.28,-0.00 24.56,-0.56 23.99,-1.11 23.41,-2.23" transform="translate(449.75,384.60) rotate(-90)" stroke="#ffcc00" stroke-width="2.00" fill="none" stroke-linecap="round" stroke-linejoin="round"/>
<path d="M0.00,-11.70 0.00,-0.00M0.00,-11.70 5.16,-11.70 6.89,-11.14 7.46,-10.59 8.03,-9.47 8.03,-7.80 7.46,-6.69 6.89,-6.13 5.16,-5.57 0.00,-5.57M12.28,-8.91 12.28,-9.47 12.85,-10.59 13.43,-11.14 14.58,-11.70 16.87,-11.70 18.02,-11.14 18.59,-10.59 19.17,-9.47 19.17,-8.36 18.59,-7.24 17.45,-5.57 11.71,-0.00 19.74,-0.00M30.30,-11.70 24.56,-11.70 23.99,-6.69 24.56,-7.24 26.28,-7.80 28.00,-7.80 29.73,-7.24 30.87,-6.13 31.45,-4.46 31.45,-3.34 30.87,-1.67 29.73,-0.56 28.00,-0.00 26.28,-0.00 24.56,-0.56 23.99,-1.11 23.41,-2.23" transform="translate(487.75,384.60) rotate(-90)" stroke="#ffcc00" stroke-width="2.00" fill="none" stroke-linecap="round" stroke-linejoin="round"/>
<path d="M0.00,-11.70 0.00,-0.00M0.00,-11.70 5.16,-11.70 6.89,-11.14 7.46,-10.59 8.03,-9.47 8.03,-7.80 7.46,-6.69 6.89,-6.13 5.16,-5.57 0.00,-5.57M12.28,-8.91 12.28,-9.47 12.85,-10.59 13.43,-11.14 14.58,-11.70 16.87,-11.70 18.02,-11.14 18.59,-10.59 19.17,-9.47 19.17,-8.36 18.59,-7.24 17.45,-5.57 11.71,-0.00 19.74,-0.00M30.30,-10.03 29.73,-11.14 28.00,-11.70 26.86,-11.70 25.13,-11.14 23.99,-9.47 23.41,-6.69 23.41,-3.90 23.99,-1.67 25.13,-0.56 26.86,-0.00 27.43,-0.00 29.15,-0.56 30.30,-1.67 30.87,-3.34 30.87,-3.90 30.30,-5.57 29.15,-6.69 27.43,-7.24 26.86,-7.24 25.13,-6.69 23.99,-5.57 23.41,-3.90" transform="translate(525.75,384.60) rotate(-90)" stroke="#ffcc00" stroke-width="2.00" fill="none" stroke-linecap="round" stroke-linejoin="round"/>
<path d="M0.00,-11.70 0.00,-0.00M0.00,-11.70 5.16,-11.70 6.89,-11.14 7.46,-10.59 8.03,-9.47 8.03,-7.80 7.46,-6.69 6.89,-6.13 5.16,-5.57 0.00,-5.57M12.28,-8.91 12.28,-9.47 12.85,-10.59 13.43,-11.14 14.58,-11.70 16.87,-11.70 18.02,-11.14 18.59,-10.59 19.17,-9.47 19.17,-8.36 18.59,-7.24 17.45,-5.57 11.71,-0.00 19.74,-0.00M31.45,-11.70 25.71,-0.00M23.41,-11.70 31.45,-11.70" transform="translate(563.75,384.60) rotate(-90)" stroke="#ffcc00" stroke-width="2.00" fill="none" stroke-linecap="round" stroke-linejoin="round"/>
<path d="M0.00,-11.70 0.00,-0.00M0.00,-11.70 5.16,-11.70 6.89,-11.14 7.46,-10.59 8.03,-9.47 8.03,-7.80 7.46,-6.69 6.89,-6.13 5.16,-5.57 0.00,-5.57M11.71,-9.47 12.85,-10.03 14.58,-11.70 14.58,-0.00M23.99,-11.70 18.25,-3.90 26.86,-3.90M23.99,-11.70 23.99,-0.00" transform="translate(601.75,384.60) rotate(-90)" stroke="#ffcc00" stroke-width="2.00" fill="none" stroke-linecap="round" stroke-linejoin="round"/>
<path d="M0.00,-11.70 0.00,-0.00M0.00,-11.70 5.16,-11.70 6.89,-11.14 7.46,-10.59 8.03,-9.47 8.03,-7.80 7.46,-6.69 6.89,-6.13 5.16,-5.57 0.00,-5.57M11.71,-9.47 12.85,-10.03 14.58,-11.70 14.58,-0.00M18.82,-8.91 18.82,-9.47 19.40,-10.59 19.97,-11.14 21.12,-11.70 23.41,-11.70 24.56,-11.14 25.13,-10.59 25.71,-9.47 25.71,-8.36 25.13,-7.24 23.99,-5.57 18.25,-0.00 26.28,-0.00" transform="translate(639.75,384.60) rotate(-90)" stroke="#ffcc00" stroke-width="2.00" fill="none" stroke-linecap="round" stroke-linejoin="round"/>
<path d="M8.61,-8.91 8.03,-10.03 6.89,-11.14 5.74,-11.70 3.44,-11.70 2.30,-11.14 1.15,-10.03 0.57,-8.91 0.00,-7.24 0.00,-4.46 0.57,-2.79 1.15,-1.67 2.30,-0.56 3.44,-0.00 5.74,-0.00 6.89,-0.56 8.03,-1.67 8.61,-2.79 8.61,-4.46M5.74,-4.46 8.61,-4.46M12.28,-11.70 12.28,-0.00M12.28,-11.70 20.31,-0.00M20.31,-11.70 20.31,-0.00M23.99,-11.70 23.99,-0.00M23.99,-11.70 28.00,-11.70 29.73,-11.14 30.87,-10.03 31.45,-8.91 32.02,-7.24 32.02,-4.46 31.45,-2.79 30.87,-1.67 29.73,-0.56 28.00,-0.00 23.99,-0.00" transform="translate(677.75,384.60) rotate(-90)" stroke="#ffcc00" stroke-width="2.00" fill="none" stroke-linecap="round" stroke-linejoin="round"/>
<path d="M0.00,-11.70 0.00,-0.00M0.00,-11.70 5.16,-11.70 6.89,-11.14 7.46,-10.59 8.03,-9.47 8.03,-7.80 7.46,-6.69 6.89,-6.13 5.16,-5.57 0.00,-5.57M11.71,-9.47 12.85,-10.03 14.58,-11.70 14.58,-0.00M19.40,-11.70 25.71,-11.70 22.27,-7.24 23.99,-7.24 25.13,-6.69 25.71,-6.13 26.28,-4.46 26.28,-3.34 25.71,-1.67 24.56,-0.56 22.84,-0.00 21.12,-0.00 19.40,-0.56 18.82,-1.11 18.25,-2.23" transform="translate(715.75,384.60) rotate(-90)" stroke="#ffcc00" stroke-width="2.00" fill="none" stroke-linecap="round" stroke-linejoin="round"/>
<path d="M8.03,-10.03 6.89,-11.14 5.16,-11.70 2.87,-11.70 1.15,-11.14 0.00,-10.03 0.00,-8.91 0.57,-7.80 1.15,-7.24 2.30,-6.69 5.74,-5.57 6.89,-5.01 7.46,-4.46 8.03,-3.34 8.03,-1.67 6.89,-0.56 5.16,-0.00 2.87,-0.00 1.15,-0.56 0.00,-1.67M11.71,-11.70 11.71,-0.00M11.71,-11.70 15.72,-11.70 17.45,-11.14 18.59,-10.03 19.17,-8.91 19.74,-7.24 19.74,-4.46 19.17,-2.79 18.59,-1.67 17.45,-0.56 15.72,-0.00 11.71,-0.00M23.99,-8.91 23.99,-9.47 24.56,-10.59 25.13,-11.14 26.28,-11.70 28.58,-11.70 29.73,-11.14 30.30,-10.59 30.87,-9.47 30.87,-8.36 30.30,-7.24 29.15,-5.57 23.41,-0.00 31.45,-0.00" transform="translate(753.75,384.60) rotate(-90)" stroke="#ffcc00" stroke-width="2.00" fill="none" stroke-linecap="round" stroke-linejoin="round"/>
<path d="M8.03,-10.03 6.89,-11.14 5.16,-11.70 2.87,-11.70 1.15,-11.14 0.00,-10.03 0.00,-8.91 0.57,-7.80 1.15,-7.24 2.30,-6.69 5.74,-5.57 6.89,-5.01 7.46,-4.46 8.03,-3.34 8.03,-1.67 6.89,-0.56 5.16,-0.00 2.87,-0.00 1.15,-0.56 0.00,-1.67M11.71,-11.70 11.71,-0.00M11.71,-11.70 15.72,-11.70 17.45,-11.14 18.59,-10.03 19.17,-8.91 19.74,-7.24 19.74,-4.46 19.17,-2.79 18.59,-1.67 17.45,-0.56 15.72,-0.00 11.71,-0.00M24.56,-11.70 30.87,-11.70 27.43,-7.24 29.15,-7.24 30.30,-6.69 30.87,-6.13 31.45,-4.46 31.45,-3.34 30.87,-1.67 29.73,-0.56 28.00,-0.00 26.28,-0.00 24.56,-0.56 23.99,-1.11 23.41,-2.23" transform="translate(791.75,384.60) rotate(-90)" stroke="#ffcc00" stroke-width="2.00" fill="none" stroke-linecap="round" stroke-linejoin="round"/>
<path d="M8.61,-8.91 8.03,-10.03 6.89,-11.14 5.74,-11.70 3.44,-11.70 2.30,-11.14 1.15,-10.03 0.57,-8.91 0.00,-7.24 0.00,-4.46 0.57,-2.79 1.15,-1.67 2.30,-0.56 3.44,-0.00 5.74,-0.00 6.89,-0.56 8.03,-1.67 8.61,-2.79M12.28,-11.70 12.28,-0.00M12.28,-11.70 16.87,-0.00M21.46,-11.70 16.87,-0.00M21.46,-11.70 21.46,-0.00M25.13,-11.70 25.13,-0.00M25.13,-11.70 29.15,-11.70 30.87,-11.14 32.02,-10.03 32.60,-8.91 33.17,-7.24 33.17,-4.46 32.60,-2.79 32.02,-1.67 30.87,-0.56 29.15,-0.00 25.13,-0.00" transform="translate(829.75,384.60) rotate(-90)" stroke="#ffcc00" stroke-width="2.00" fill="none" stroke-linecap="round" stroke-linejoin="round"/>
<path d="M6.89,-11.70 1.15,-11.70 0.57,-6.69 1.15,-7.24 2.87,-7.80 4.59,-7.80 6.31,-7.24 7.46,-6.13 8.03,-4.46 8.03,-3.34 7.46,-1.67 6.31,-0.56 4.59,-0.00 2.87,-0.00 1.15,-0.56 0.57,-1.11 0.00,-2.23M11.71,-11.70 16.30,-0.00M20.89,-11.70 16.30,-0.00" transform="translate(867.75,384.60) rotate(-90)" stroke="#ffcc00" stroke-width="2.00" fill="none" stroke-linecap="round" stroke-linejoin="round"/>
<path d="M-41.25,-19.30 -41.25,-0.00M-41.25,-19.30 -29.91,-19.30M-41.25,-10.11 -34.27,-10.11M-41.25,-0.00 -29.91,-0.00M-12.12,-16.54 -13.87,-18.38 -16.48,-19.30 -19.97,-19.30 -22.59,-18.38 -24.33,-16.54 -24.33,-14.70 -23.46,-12.87 -22.59,-11.95 -20.84,-11.03 -15.61,-9.19 -13.87,-8.27 -12.99,-7.35 -12.12,-5.51 -12.12,-2.76 -13.87,-0.92 -16.48,-0.00 -19.97,-0.00 -22.59,-0.92 -24.33,-2.76M-6.54,-19.30 -6.54,-0.00M-6.54,-19.30 1.31,-19.30 3.92,-18.38 4.80,-17.46 5.67,-15.62 5.67,-12.87 4.80,-11.03 3.92,-10.11 1.31,-9.19 -6.54,-9.19M12.99,-19.30 22.59,-19.30 17.35,-11.95 19.97,-11.95 21.72,-11.03 22.59,-10.11 23.46,-7.35 23.46,-5.51 22.59,-2.76 20.84,-0.92 18.23,-0.00 15.61,-0.00 12.99,-0.92 12.12,-1.84 11.25,-3.68M29.91,-14.70 29.91,-15.62 30.78,-17.46 31.66,-18.38 33.40,-19.30 36.89,-19.30 38.63,-18.38 39.51,-17.46 40.38,-15.62 40.38,-13.79 39.51,-11.95 37.76,-9.19 29.04,-0.00 41.25,-0.00" transform="translate(229.70,242.70) rotate(-90)" stroke="#ffcc00" stroke-width="1.80" fill="none" stroke-linecap="round" stroke-linejoin="round"/>
<path d="M-75.00,-19.30 -70.66,-0.00M-66.32,-19.30 -70.66,-0.00M-66.32,-19.30 -61.98,-0.00M-57.64,-19.30 -61.98,-0.00M-52.08,-19.30 -52.08,-0.00M-52.08,-19.30 -44.27,-19.30 -41.67,-18.38 -40.80,-17.46 -39.93,-15.62 -39.93,-13.79 -40.80,-11.95 -41.67,-11.03 -44.27,-10.11 -52.08,-10.11M-46.01,-10.11 -39.93,-0.00M-29.17,-19.30 -30.90,-18.38 -32.64,-16.54 -33.51,-14.70 -34.38,-11.95 -34.38,-7.35 -33.51,-4.60 -32.64,-2.76 -30.90,-0.92 -29.17,-0.00 -25.69,-0.00 -23.96,-0.92 -22.22,-2.76 -21.35,-4.60 -20.49,-7.35 -20.49,-11.95 -21.35,-14.70 -22.22,-16.54 -23.96,-18.38 -25.69,-19.30 -29.17,-19.30M-9.72,-19.30 -11.46,-18.38 -13.19,-16.54 -14.06,-14.70 -14.93,-11.95 -14.93,-7.35 -14.06,-4.60 -13.19,-2.76 -11.46,-0.92 -9.72,-0.00 -6.25,-0.00 -4.51,-0.92 -2.78,-2.76 -1.91,-4.60 -1.04,-7.35 -1.04,-11.95 -1.91,-14.70 -2.78,-16.54 -4.51,-18.38 -6.25,-19.30 -9.72,-19.30M4.51,-19.30 4.51,-0.00M4.51,-19.30 11.46,-0.00M18.40,-19.30 11.46,-0.00M18.40,-19.30 18.40,-0.00M23.96,-8.27 39.58,-8.27M46.87,-19.30 56.42,-19.30 51.22,-11.95 53.82,-11.95 55.56,-11.03 56.42,-10.11 57.29,-7.35 57.29,-5.51 56.42,-2.76 54.69,-0.92 52.08,-0.00 49.48,-0.00 46.87,-0.92 46.01,-1.84 45.14,-3.68M63.72,-14.70 63.72,-15.62 64.58,-17.46 65.45,-18.38 67.19,-19.30 70.66,-19.30 72.40,-18.38 73.26,-17.46 74.13,-15.62 74.13,-13.79 73.26,-11.95 71.53,-9.19 62.85,-0.00 75.00,-0.00" transform="translate(260.60,242.10) rotate(-90)" stroke="#ffcc00" stroke-width="1.80" fill="none" stroke-linecap="round" stroke-linejoin="round"/>
<path d="M-40.10,-18.50 -40.10,-5.29 -39.21,-2.64 -37.43,-0.88 -34.77,-0.00 -32.99,-0.00 -30.32,-0.88 -28.54,-2.64 -27.65,-5.29 -27.65,-18.50M-9.51,-15.86 -11.29,-17.62 -13.96,-18.50 -17.52,-18.50 -20.18,-17.62 -21.96,-15.86 -21.96,-14.10 -21.07,-12.33 -20.18,-11.45 -18.41,-10.57 -13.07,-8.81 -11.29,-7.93 -10.40,-7.05 -9.51,-5.29 -9.51,-2.64 -11.29,-0.88 -13.96,-0.00 -17.52,-0.00 -20.18,-0.88 -21.96,-2.64M-3.82,-18.50 -3.82,-0.00M-3.82,-18.50 4.18,-18.50 6.85,-17.62 7.74,-16.74 8.62,-14.98 8.62,-13.21 7.74,-11.45 6.85,-10.57 4.18,-9.69M-3.82,-9.69 4.18,-9.69 6.85,-8.81 7.74,-7.93 8.62,-6.17 8.62,-3.52 7.74,-1.76 6.85,-0.88 4.18,-0.00 -3.82,-0.00M40.10,-14.10 39.21,-15.86 37.43,-17.62 35.65,-18.50 32.10,-18.50 30.32,-17.62 28.54,-15.86 27.65,-14.10 26.76,-11.45 26.76,-7.05 27.65,-4.40 28.54,-2.64 30.32,-0.88 32.10,-0.00 35.65,-0.00 37.43,-0.88 39.21,-2.64 40.10,-4.40" transform="translate(859.80,242.25) rotate(-90)" stroke="#ffcc00" stroke-width="1.80" fill="none" stroke-linecap="round" stroke-linejoin="round"/>
<path d="M-403.59,-15.69 -405.32,-17.43 -407.92,-18.30 -411.38,-18.30 -413.97,-17.43 -415.70,-15.69 -415.70,-13.94 -414.84,-12.20 -413.97,-11.33 -412.24,-10.46 -407.05,-8.71 -405.32,-7.84 -404.46,-6.97 -403.59,-5.23 -403.59,-2.61 -405.32,-0.87 -407.92,-0.00 -411.38,-0.00 -413.97,-0.87 -415.70,-2.61M-398.05,-12.20 -398.05,-0.00M-398.05,-8.71 -395.46,-11.33 -393.73,-12.20 -391.14,-12.20 -389.41,-11.33 -388.54,-8.71 -388.54,-0.00M-388.54,-8.71 -385.95,-11.33 -384.22,-12.20 -381.62,-12.20 -379.89,-11.33 -379.03,-8.71 -379.03,-0.00M-363.11,-12.20 -363.11,-0.00M-363.11,-9.59 -364.84,-11.33 -366.57,-12.20 -369.17,-12.20 -370.90,-11.33 -372.62,-9.59 -373.49,-6.97 -373.49,-5.23 -372.62,-2.61 -370.90,-0.87 -369.17,-0.00 -366.57,-0.00 -364.84,-0.87 -363.11,-2.61M-357.57,-12.20 -357.57,-0.00M-357.57,-6.97 -356.71,-9.59 -354.98,-11.33 -353.25,-12.20 -350.65,-12.20M-342.52,-18.30 -342.52,-3.49 -341.66,-0.87 -339.93,-0.00 -338.20,-0.00M-345.12,-12.20 -339.06,-12.20M-320.55,-18.30 -320.55,-0.00M-320.55,-18.30 -312.77,-18.30 -310.17,-17.43 -309.31,-16.56 -308.44,-14.81 -308.44,-12.20 -309.31,-10.46 -310.17,-9.59 -312.77,-8.71 -320.55,-8.71M-302.91,-18.30 -298.58,-0.00M-294.26,-18.30 -298.58,-0.00M-294.26,-18.30 -289.93,-0.00M-285.61,-18.30 -289.93,-0.00M-280.07,-18.30 -280.07,-0.00M-280.07,-18.30 -273.15,-0.00M-266.23,-18.30 -273.15,-0.00M-266.23,-18.30 -266.23,-0.00M-248.59,-18.30 -248.59,-0.00M-248.59,-18.30 -237.35,-18.30M-248.59,-9.59 -241.67,-9.59M-221.43,-12.20 -221.43,-0.00M-221.43,-9.59 -223.16,-11.33 -224.89,-12.20 -227.48,-12.20 -229.21,-11.33 -230.94,-9.59 -231.81,-6.97 -231.81,-5.23 -230.94,-2.61 -229.21,-0.87 -227.48,-0.00 -224.89,-0.00 -223.16,-0.87 -221.43,-2.61M-215.89,-12.20 -215.89,-0.00M-215.89,-8.71 -213.30,-11.33 -211.57,-12.20 -208.97,-12.20 -207.24,-11.33 -206.38,-8.71 -206.38,-0.00M-175.76,-13.94 -176.62,-15.69 -178.35,-17.43 -180.08,-18.30 -183.54,-18.30 -185.27,-17.43 -187.00,-15.69 -187.87,-13.94 -188.73,-11.33 -188.73,-6.97 -187.87,-4.36 -187.00,-2.61 -185.27,-0.87 -183.54,-0.00 -180.08,-0.00 -178.35,-0.87 -176.62,-2.61 -175.76,-4.36M-165.90,-12.20 -167.63,-11.33 -169.36,-9.59 -170.22,-6.97 -170.22,-5.23 -169.36,-2.61 -167.63,-0.87 -165.90,-0.00 -163.30,-0.00 -161.57,-0.87 -159.84,-2.61 -158.98,-5.23 -158.98,-6.97 -159.84,-9.59 -161.57,-11.33 -163.30,-12.20 -165.90,-12.20M-153.44,-12.20 -153.44,-0.00M-153.44,-8.71 -150.85,-11.33 -149.12,-12.20 -146.52,-12.20 -144.79,-11.33 -143.93,-8.71 -143.93,-0.00M-135.80,-18.30 -135.80,-3.49 -134.93,-0.87 -133.20,-0.00 -131.47,-0.00M-138.39,-12.20 -132.34,-12.20M-125.94,-12.20 -125.94,-0.00M-125.94,-6.97 -125.07,-9.59 -123.34,-11.33 -121.61,-12.20 -119.02,-12.20M-109.16,-12.20 -110.89,-11.33 -112.62,-9.59 -113.48,-6.97 -113.48,-5.23 -112.62,-2.61 -110.89,-0.87 -109.16,-0.00 -106.56,-0.00 -104.83,-0.87 -103.10,-2.61 -102.24,-5.23 -102.24,-6.97 -103.10,-9.59 -104.83,-11.33 -106.56,-12.20 -109.16,-12.20M-96.70,-18.30 -96.70,-0.00M-91.17,-18.30 -91.17,-0.00M-85.63,-6.97 -75.25,-6.97 -75.25,-8.71 -76.12,-10.46 -76.98,-11.33 -78.71,-12.20 -81.31,-12.20 -83.04,-11.33 -84.77,-9.59 -85.63,-6.97 -85.63,-5.23 -84.77,-2.61 -83.04,-0.87 -81.31,-0.00 -78.71,-0.00 -76.98,-0.87 -75.25,-2.61M-69.72,-12.20 -69.72,-0.00M-69.72,-6.97 -68.85,-9.59 -67.12,-11.33 -65.39,-12.20 -62.80,-12.20M-45.15,-12.20 -39.96,-0.00M-34.77,-12.20 -39.96,-0.00M-29.24,-14.81 -27.51,-15.69 -24.91,-18.30 -24.91,-0.00M-18.51,-1.74 -19.38,-0.87 -18.51,-0.00 -17.65,-0.87 -18.51,-1.74M-6.92,-18.30 -9.51,-17.43 -11.24,-14.81 -12.11,-10.46 -12.11,-7.84 -11.24,-3.49 -9.51,-0.87 -6.92,-0.00 -5.19,-0.00 -2.59,-0.87 -0.86,-3.49 0.00,-7.84 0.00,-10.46 -0.86,-14.81 -2.59,-17.43 -5.19,-18.30 -6.92,-18.30" transform="translate(65.20,107.00) rotate(-90)" stroke="#ffcc00" stroke-width="2.60" fill="none" stroke-linecap="round" stroke-linejoin="round"/>
<path d="M-191.70,-11.20 -191.70,-0.00M-191.70,-5.87 -190.59,-6.93 -189.48,-7.47 -187.82,-7.47 -186.71,-6.93 -185.60,-5.87 -185.05,-4.27 -185.05,-3.20 -185.60,-1.60 -186.71,-0.53 -187.82,-0.00 -189.48,-0.00 -190.59,-0.53 -191.70,-1.60M-180.95,-7.47 -177.62,-0.00M-174.29,-7.47 -177.62,-0.00 -178.73,2.13 -179.84,3.20 -180.95,3.73 -181.50,3.73M-157.44,-11.20 -157.44,-2.67 -157.99,-1.07 -158.55,-0.53 -159.66,-0.00 -160.77,-0.00 -161.88,-0.53 -162.43,-1.07 -162.98,-2.67 -162.98,-3.73M-151.12,-7.47 -152.23,-6.93 -153.34,-5.87 -153.89,-4.27 -153.89,-3.20 -153.34,-1.60 -152.23,-0.53 -151.12,-0.00 -149.46,-0.00 -148.35,-0.53 -147.24,-1.60 -146.69,-3.20 -146.69,-4.27 -147.24,-5.87 -148.35,-6.93 -149.46,-7.47 -151.12,-7.47M-137.04,-5.87 -137.59,-6.93 -139.26,-7.47 -140.92,-7.47 -142.58,-6.93 -143.14,-5.87 -142.58,-4.80 -141.47,-4.27 -138.70,-3.73 -137.59,-3.20 -137.04,-2.13 -137.04,-1.60 -137.59,-0.53 -139.26,-0.00 -140.92,-0.00 -142.58,-0.53 -143.14,-1.60M-133.49,-11.20 -133.49,-0.00M-133.49,-5.33 -131.83,-6.93 -130.72,-7.47 -129.06,-7.47 -127.95,-6.93 -127.39,-5.33 -127.39,-0.00M-123.85,-7.47 -123.85,-2.13 -123.29,-0.53 -122.18,-0.00 -120.52,-0.00 -119.41,-0.53 -117.75,-2.13M-117.75,-7.47 -117.75,-0.00M-107.55,-7.47 -107.55,-0.00M-107.55,-5.87 -108.66,-6.93 -109.76,-7.47 -111.43,-7.47 -112.54,-6.93 -113.65,-5.87 -114.20,-4.27 -114.20,-3.20 -113.65,-1.60 -112.54,-0.53 -111.43,-0.00 -109.76,-0.00 -108.66,-0.53 -107.55,-1.60M-96.24,-11.20 -96.24,-0.00M-96.24,-11.20 -91.80,-0.00M-87.37,-11.20 -91.80,-0.00M-87.37,-11.20 -87.37,-0.00M-83.27,-1.07 -83.82,-0.53 -83.27,-0.00 -82.71,-0.53 -83.27,-1.07M-71.40,-11.20 -71.40,-0.00M-71.40,-11.20 -66.41,-11.20 -64.75,-10.67 -64.20,-10.13 -63.64,-9.07 -63.64,-8.00 -64.20,-6.93 -64.75,-6.40 -66.41,-5.87M-71.40,-5.87 -66.41,-5.87 -64.75,-5.33 -64.20,-4.80 -63.64,-3.73 -63.64,-2.13 -64.20,-1.07 -64.75,-0.53 -66.41,-0.00 -71.40,-0.00M-57.32,-7.47 -58.43,-6.93 -59.54,-5.87 -60.09,-4.27 -60.09,-3.20 -59.54,-1.60 -58.43,-0.53 -57.32,-0.00 -55.66,-0.00 -54.55,-0.53 -53.44,-1.60 -52.89,-3.20 -52.89,-4.27 -53.44,-5.87 -54.55,-6.93 -55.66,-7.47 -57.32,-7.47M-49.34,-7.47 -49.34,-0.00M-49.34,-5.33 -47.68,-6.93 -46.57,-7.47 -44.90,-7.47 -43.79,-6.93 -43.24,-5.33 -43.24,-0.00M-39.69,-11.20 -39.14,-10.67 -38.58,-11.20 -39.14,-11.73 -39.69,-11.20M-39.14,-7.47 -39.14,-0.00M-30.60,-11.20 -31.71,-11.20 -32.82,-10.67 -33.37,-9.07 -33.37,-0.00M-35.04,-7.47 -31.16,-7.47M-20.40,-7.47 -20.40,-0.00M-20.40,-5.87 -21.51,-6.93 -22.62,-7.47 -24.28,-7.47 -25.39,-6.93 -26.50,-5.87 -27.05,-4.27 -27.05,-3.20 -26.50,-1.60 -25.39,-0.53 -24.28,-0.00 -22.62,-0.00 -21.51,-0.53 -20.40,-1.60M-10.20,-5.87 -11.31,-6.93 -12.42,-7.47 -14.08,-7.47 -15.19,-6.93 -16.30,-5.87 -16.85,-4.27 -16.85,-3.20 -16.30,-1.60 -15.19,-0.53 -14.08,-0.00 -12.42,-0.00 -11.31,-0.53 -10.20,-1.60M-6.65,-4.27 0.00,-4.27 0.00,-5.33 -0.55,-6.40 -1.11,-6.93 -2.22,-7.47 -3.88,-7.47 -4.99,-6.93 -6.10,-5.87 -6.65,-4.27 -6.65,-3.20 -6.10,-1.60 -4.99,-0.53 -3.88,-0.00 -2.22,-0.00 -1.11,-0.53 0.00,-1.60" transform="translate(87.20,105.80) rotate(-90)" stroke="#ffcc00" stroke-width="2.90" fill="none" stroke-linecap="round" stroke-linejoin="round"/>
<path d="M-209.30,-14.00 -209.30,-0.00M-209.30,-14.00 -203.07,-14.00 -200.99,-13.33 -200.30,-12.67 -199.61,-11.33 -199.61,-10.00 -200.30,-8.67 -200.99,-8.00 -203.07,-7.33M-209.30,-7.33 -203.07,-7.33 -200.99,-6.67 -200.30,-6.00 -199.61,-4.67 -199.61,-2.67 -200.30,-1.33 -200.99,-0.67 -203.07,-0.00 -209.30,-0.00M-186.88,-9.33 -186.88,-0.00M-186.88,-7.33 -188.26,-8.67 -189.64,-9.33 -191.72,-9.33 -193.10,-8.67 -194.49,-7.33 -195.18,-5.33 -195.18,-4.00 -194.49,-2.00 -193.10,-0.67 -191.72,-0.00 -189.64,-0.00 -188.26,-0.67 -186.88,-2.00M-182.45,-9.33 -182.45,-0.00M-182.45,-5.33 -181.75,-7.33 -180.37,-8.67 -178.98,-9.33 -176.91,-9.33M-172.48,-9.33 -172.48,-0.00M-172.48,-5.33 -171.79,-7.33 -170.40,-8.67 -169.02,-9.33 -166.94,-9.33M-162.51,-5.33 -154.21,-5.33 -154.21,-6.67 -154.90,-8.00 -155.59,-8.67 -156.98,-9.33 -159.05,-9.33 -160.44,-8.67 -161.82,-7.33 -162.51,-5.33 -162.51,-4.00 -161.82,-2.00 -160.44,-0.67 -159.05,-0.00 -156.98,-0.00 -155.59,-0.67 -154.21,-2.00M-149.78,-14.00 -149.78,-0.00M-128.74,-14.00 -128.74,-3.33 -129.43,-1.33 -130.12,-0.67 -131.50,-0.00 -132.89,-0.00 -134.27,-0.67 -134.97,-1.33 -135.66,-3.33 -135.66,-4.67M-116.00,-9.33 -116.00,-0.00M-116.00,-7.33 -117.39,-8.67 -118.77,-9.33 -120.85,-9.33 -122.23,-8.67 -123.61,-7.33 -124.31,-5.33 -124.31,-4.00 -123.61,-2.00 -122.23,-0.67 -120.85,-0.00 -118.77,-0.00 -117.39,-0.67 -116.00,-2.00M-103.27,-7.33 -104.65,-8.67 -106.03,-9.33 -108.11,-9.33 -109.49,-8.67 -110.88,-7.33 -111.57,-5.33 -111.57,-4.00 -110.88,-2.00 -109.49,-0.67 -108.11,-0.00 -106.03,-0.00 -104.65,-0.67 -103.27,-2.00M-98.84,-14.00 -98.84,-0.00M-91.91,-9.33 -98.84,-2.67M-96.07,-5.33 -91.22,-0.00M-77.10,-14.00 -71.57,-0.00M-66.03,-14.00 -71.57,-0.00M-61.60,-5.33 -53.29,-5.33 -53.29,-6.67 -53.99,-8.00 -54.68,-8.67 -56.06,-9.33 -58.14,-9.33 -59.52,-8.67 -60.91,-7.33 -61.60,-5.33 -61.60,-4.00 -60.91,-2.00 -59.52,-0.67 -58.14,-0.00 -56.06,-0.00 -54.68,-0.67 -53.29,-2.00M-48.86,-9.33 -48.86,-0.00M-48.86,-5.33 -48.17,-7.33 -46.79,-8.67 -45.40,-9.33 -43.33,-9.33M-31.28,-7.33 -31.98,-8.67 -34.05,-9.33 -36.13,-9.33 -38.21,-8.67 -38.90,-7.33 -38.21,-6.00 -36.82,-5.33 -33.36,-4.67 -31.98,-4.00 -31.28,-2.67 -31.28,-2.00 -31.98,-0.67 -34.05,-0.00 -36.13,-0.00 -38.21,-0.67 -38.90,-2.00M-26.85,-14.00 -26.16,-13.33 -25.47,-14.00 -26.16,-14.67 -26.85,-14.00M-26.16,-9.33 -26.16,-0.00M-17.58,-9.33 -18.96,-8.67 -20.35,-7.33 -21.04,-5.33 -21.04,-4.00 -20.35,-2.00 -18.96,-0.67 -17.58,-0.00 -15.50,-0.00 -14.12,-0.67 -12.74,-2.00 -12.04,-4.00 -12.04,-5.33 -12.74,-7.33 -14.12,-8.67 -15.50,-9.33 -17.58,-9.33M-7.61,-9.33 -7.61,-0.00M-7.61,-6.67 -5.54,-8.67 -4.15,-9.33 -2.08,-9.33 -0.69,-8.67 0.00,-6.67 0.00,-0.00" transform="translate(116.50,105.90) rotate(-90)" stroke="#ffcc00" stroke-width="3.05" fill="none" stroke-linecap="round" stroke-linejoin="round"/>
<path d="M0.00,-16.10 0.00,-4.60 0.79,-2.30 2.37,-0.77 4.74,-0.00 6.32,-0.00 8.69,-0.77 10.27,-2.30 11.06,-4.60 11.06,-16.10M16.11,-13.03 17.69,-13.80 20.06,-16.10 20.06,-0.00" transform="translate(660.40,461.40)" stroke="#ffcc00" stroke-width="2.20" fill="none" stroke-linecap="round" stroke-linejoin="round"/>
<path d="M0.00,-16.10 0.00,-4.60 0.79,-2.30 2.37,-0.77 4.74,-0.00 6.32,-0.00 8.69,-0.77 10.27,-2.30 11.06,-4.60 11.06,-16.10M16.90,-12.27 16.90,-13.03 17.69,-14.57 18.48,-15.33 20.06,-16.10 23.22,-16.10 24.80,-15.33 25.59,-14.57 26.37,-13.03 26.37,-11.50 25.59,-9.97 24.01,-7.67 16.11,-0.00 27.16,-0.00" transform="translate(1218.90,326.00)" stroke="#ffcc00" stroke-width="2.20" fill="none" stroke-linecap="round" stroke-linejoin="round"/>
<path d="M0.00,-16.10 0.00,-4.60 0.79,-2.30 2.37,-0.77 4.74,-0.00 6.32,-0.00 8.69,-0.77 10.27,-2.30 11.06,-4.60 11.06,-16.10M17.69,-16.10 26.37,-16.10 21.64,-9.97 24.01,-9.97 25.59,-9.20 26.37,-8.43 27.16,-6.13 27.16,-4.60 26.37,-2.30 24.80,-0.77 22.43,-0.00 20.06,-0.00 17.69,-0.77 16.90,-1.53 16.11,-3.07" transform="translate(1357.90,696.40)" stroke="#ffcc00" stroke-width="2.20" fill="none" stroke-linecap="round" stroke-linejoin="round"/>
<path d="M0.00,-16.10 0.00,-4.60 0.79,-2.30 2.37,-0.77 4.74,-0.00 6.32,-0.00 8.69,-0.77 10.27,-2.30 11.06,-4.60 11.06,-16.10M24.01,-16.10 16.11,-5.37 27.95,-5.37M24.01,-16.10 24.01,-0.00" transform="translate(1127.40,719.60)" stroke="#ffcc00" stroke-width="2.20" fill="none" stroke-linecap="round" stroke-linejoin="round"/>
<path d="M0.00,-16.10 0.00,-0.00M0.00,-16.10 5.53,-16.10 7.90,-15.33 9.48,-13.80 10.27,-12.27 11.06,-9.97 11.06,-6.13 10.27,-3.83 9.48,-2.30 7.90,-0.77 5.53,-0.00 0.00,-0.00M16.11,-13.03 17.69,-13.80 20.06,-16.10 20.06,-0.00" transform="translate(1128.90,360.90)" stroke="#ffcc00" stroke-width="2.20" fill="none" stroke-linecap="round" stroke-linejoin="round"/>
<path d="M0.00,-16.10 0.00,-0.00M0.00,-16.10 7.11,-16.10 9.48,-15.33 10.27,-14.57 11.06,-13.03 11.06,-11.50 10.27,-9.97 9.48,-9.20 7.11,-8.43 0.00,-8.43M5.53,-8.43 11.06,-0.00M16.11,-13.03 17.69,-13.80 20.06,-16.10 20.06,-0.00" transform="translate(1326.10,321.80)" stroke="#ffcc00" stroke-width="2.20" fill="none" stroke-linecap="round" stroke-linejoin="round"/>
<path d="M0.00,-16.10 0.00,-0.00M0.00,-16.10 7.11,-16.10 9.48,-15.33 10.27,-14.57 11.06,-13.03 11.06,-11.50 10.27,-9.97 9.48,-9.20 7.11,-8.43 0.00,-8.43M5.53,-8.43 11.06,-0.00M16.90,-12.27 16.90,-13.03 17.69,-14.57 18.48,-15.33 20.06,-16.10 23.22,-16.10 24.80,-15.33 25.59,-14.57 26.37,-13.03 26.37,-11.50 25.59,-9.97 24.01,-7.67 16.11,-0.00 27.16,-0.00" transform="translate(1408.00,321.80)" stroke="#ffcc00" stroke-width="2.20" fill="none" stroke-linecap="round" stroke-linejoin="round"/>
<path d="M4.74,-16.10 3.16,-15.33 1.58,-13.80 0.79,-12.27 0.00,-9.97 0.00,-6.13 0.79,-3.83 1.58,-2.30 3.16,-0.77 4.74,-0.00 7.90,-0.00 9.48,-0.77 11.06,-2.30 11.85,-3.83 12.63,-6.13 12.63,-9.97 11.85,-12.27 11.06,-13.80 9.48,-15.33 7.90,-16.10 4.74,-16.10M7.11,-3.07 11.85,1.53M17.69,-13.03 19.27,-13.80 21.64,-16.10 21.64,-0.00" transform="translate(1312.60,506.60)" stroke="#ffcc00" stroke-width="2.20" fill="none" stroke-linecap="round" stroke-linejoin="round"/>
<path d="M0.00,-16.10 0.00,-0.00M0.00,-0.00 9.48,-0.00M14.53,-13.03 16.11,-13.80 18.48,-16.10 18.48,-0.00" transform="translate(1398.10,496.70)" stroke="#ffcc00" stroke-width="2.20" fill="none" stroke-linecap="round" stroke-linejoin="round"/>
<path d="M0.00,-16.10 0.00,-0.00M0.00,-16.10 10.27,-16.10M0.00,-8.43 6.32,-8.43M21.64,-16.10 15.32,-0.00M21.64,-16.10 27.95,-0.00M17.69,-5.37 25.59,-5.37M33.01,-16.10 33.01,-0.00M33.01,-16.10 44.06,-0.00M44.06,-16.10 44.06,-0.00M49.12,-13.03 50.70,-13.80 53.07,-16.10 53.07,-0.00" transform="translate(108.10,691.40)" stroke="#ffcc00" stroke-width="2.20" fill="none" stroke-linecap="round" stroke-linejoin="round"/>
<path d="M0.00,-16.10 0.00,-0.00M0.00,-16.10 10.27,-16.10M0.00,-8.43 6.32,-8.43M21.64,-16.10 15.32,-0.00M21.64,-16.10 27.95,-0.00M17.69,-5.37 25.59,-5.37M33.01,-16.10 33.01,-0.00M33.01,-16.10 44.06,-0.00M44.06,-16.10 44.06,-0.00M49.91,-12.27 49.91,-13.03 50.70,-14.57 51.49,-15.33 53.07,-16.10 56.22,-16.10 57.80,-15.33 58.59,-14.57 59.38,-13.03 59.38,-11.50 58.59,-9.97 57.01,-7.67 49.12,-0.00 60.17,-0.00" transform="translate(220.30,691.40)" stroke="#ffcc00" stroke-width="2.20" fill="none" stroke-linecap="round" stroke-linejoin="round"/>
<path d="M0.00,-16.10 0.00,-0.00M0.00,-16.10 10.27,-16.10M0.00,-8.43 6.32,-8.43M21.64,-16.10 15.32,-0.00M21.64,-16.10 27.95,-0.00M17.69,-5.37 25.59,-5.37M33.01,-16.10 33.01,-0.00M33.01,-16.10 44.06,-0.00M44.06,-16.10 44.06,-0.00M50.70,-16.10 59.38,-16.10 54.64,-9.97 57.01,-9.97 58.59,-9.20 59.38,-8.43 60.17,-6.13 60.17,-4.60 59.38,-2.30 57.80,-0.77 55.43,-0.00 53.07,-0.00 50.70,-0.77 49.91,-1.53 49.12,-3.07" transform="translate(332.50,691.40)" stroke="#ffcc00" stroke-width="2.20" fill="none" stroke-linecap="round" stroke-linejoin="round"/>
<path d="M0.00,-16.10 0.00,-0.00M0.00,-16.10 10.27,-16.10M0.00,-8.43 6.32,-8.43M21.64,-16.10 15.32,-0.00M21.64,-16.10 27.95,-0.00M17.69,-5.37 25.59,-5.37M33.01,-16.10 33.01,-0.00M33.01,-16.10 44.06,-0.00M44.06,-16.10 44.06,-0.00M57.01,-16.10 49.12,-5.37 60.96,-5.37M57.01,-16.10 57.01,-0.00" transform="translate(444.70,691.40)" stroke="#ffcc00" stroke-width="2.20" fill="none" stroke-linecap="round" stroke-linejoin="round"/>
<path d="M0.00,-16.10 0.00,-0.00M0.00,-16.10 10.27,-16.10M0.00,-8.43 6.32,-8.43M21.64,-16.10 15.32,-0.00M21.64,-16.10 27.95,-0.00M17.69,-5.37 25.59,-5.37M33.01,-16.10 33.01,-0.00M33.01,-16.10 44.06,-0.00M44.06,-16.10 44.06,-0.00M58.59,-16.10 50.70,-16.10 49.91,-9.20 50.70,-9.97 53.07,-10.73 55.43,-10.73 57.80,-9.97 59.38,-8.43 60.17,-6.13 60.17,-4.60 59.38,-2.30 57.80,-0.77 55.43,-0.00 53.07,-0.00 50.70,-0.77 49.91,-1.53 49.12,-3.07" transform="translate(556.90,691.40)" stroke="#ffcc00" stroke-width="2.20" fill="none" stroke-linecap="round" stroke-linejoin="round"/>
<path d="M0.00,-16.10 0.00,-0.00M0.00,-16.10 10.27,-16.10M0.00,-8.43 6.32,-8.43M21.64,-16.10 15.32,-0.00M21.64,-16.10 27.95,-0.00M17.69,-5.37 25.59,-5.37M33.01,-16.10 33.01,-0.00M33.01,-16.10 44.06,-0.00M44.06,-16.10 44.06,-0.00M58.59,-13.80 57.80,-15.33 55.43,-16.10 53.86,-16.10 51.49,-15.33 49.91,-13.03 49.12,-9.20 49.12,-5.37 49.91,-2.30 51.49,-0.77 53.86,-0.00 54.64,-0.00 57.01,-0.77 58.59,-2.30 59.38,-4.60 59.38,-5.37 58.59,-7.67 57.01,-9.20 54.64,-9.97 53.86,-9.97 51.49,-9.20 49.91,-7.67 49.12,-5.37" transform="translate(669.10,691.40)" stroke="#ffcc00" stroke-width="2.20" fill="none" stroke-linecap="round" stroke-linejoin="round"/>
<path d="M0.00,-16.10 0.00,-0.00M0.00,-16.10 10.27,-16.10M0.00,-8.43 6.32,-8.43M21.64,-16.10 15.32,-0.00M21.64,-16.10 27.95,-0.00M17.69,-5.37 25.59,-5.37M33.01,-16.10 33.01,-0.00M33.01,-16.10 44.06,-0.00M44.06,-16.10 44.06,-0.00M60.17,-16.10 52.28,-0.00M49.12,-16.10 60.17,-16.10" transform="translate(781.30,691.40)" stroke="#ffcc00" stroke-width="2.20" fill="none" stroke-linecap="round" stroke-linejoin="round"/>
<path d="M0.00,-16.10 0.00,-0.00M0.00,-16.10 10.27,-16.10M0.00,-8.43 6.32,-8.43M21.64,-16.10 15.32,-0.00M21.64,-16.10 27.95,-0.00M17.69,-5.37 25.59,-5.37M33.01,-16.10 33.01,-0.00M33.01,-16.10 44.06,-0.00M44.06,-16.10 44.06,-0.00M53.07,-16.10 50.70,-15.33 49.91,-13.80 49.91,-12.27 50.70,-10.73 52.28,-9.97 55.43,-9.20 57.80,-8.43 59.38,-6.90 60.17,-5.37 60.17,-3.07 59.38,-1.53 58.59,-0.77 56.22,-0.00 53.07,-0.00 50.70,-0.77 49.91,-1.53 49.12,-3.07 49.12,-5.37 49.91,-6.90 51.49,-8.43 53.86,-9.20 57.01,-9.97 58.59,-10.73 59.38,-12.27 59.38,-13.80 58.59,-15.33 56.22,-16.10 53.07,-16.10" transform="translate(893.50,691.40)" stroke="#ffcc00" stroke-width="2.20" fill="none" stroke-linecap="round" stroke-linejoin="round"/>
<path d="M0.00,-13.00 0.00,-0.00M0.00,-13.00 5.52,-0.00M11.04,-13.00 5.52,-0.00M11.04,-13.00 11.04,-0.00M15.46,-13.00 15.46,-0.00M15.46,-13.00 21.67,-13.00 23.74,-12.38 24.43,-11.76 25.13,-10.52 25.13,-8.67 24.43,-7.43 23.74,-6.81 21.67,-6.19 15.46,-6.19M29.54,-10.52 30.92,-11.14 32.99,-13.00 32.99,-0.00M45.69,-13.00 38.79,-13.00 38.10,-7.43 38.79,-8.05 40.86,-8.67 42.93,-8.67 45.00,-8.05 46.39,-6.81 47.08,-4.95 47.08,-3.71 46.39,-1.86 45.00,-0.62 42.93,-0.00 40.86,-0.00 38.79,-0.62 38.10,-1.24 37.41,-2.48M54.94,-13.00 52.87,-12.38 52.18,-11.14 52.18,-9.90 52.87,-8.67 54.25,-8.05 57.01,-7.43 59.09,-6.81 60.47,-5.57 61.16,-4.33 61.16,-2.48 60.47,-1.24 59.78,-0.62 57.71,-0.00 54.94,-0.00 52.87,-0.62 52.18,-1.24 51.49,-2.48 51.49,-4.33 52.18,-5.57 53.56,-6.81 55.63,-7.43 58.40,-8.05 59.78,-8.67 60.47,-9.90 60.47,-11.14 59.78,-12.38 57.71,-13.00 54.94,-13.00M72.48,-13.00 65.57,-4.33 75.93,-4.33M72.48,-13.00 72.48,-0.00M80.35,-13.00 80.35,-0.00M80.35,-13.00 89.32,-13.00M80.35,-6.81 85.87,-6.81M80.35,-0.00 89.32,-0.00M93.74,-13.00 93.74,-0.00M93.74,-13.00 103.40,-0.00M103.40,-13.00 103.40,-0.00" transform="translate(1175.40,180.60)" stroke="#ffcc00" stroke-width="3.00" fill="none" stroke-linecap="round" stroke-linejoin="round"/>
<path d="M-15.15,-14.00 -15.15,-0.00M-10.82,-14.00 -10.82,-0.00M-10.82,-14.00 -1.35,-0.00M-1.35,-14.00 -1.35,-0.00M2.98,-6.00 15.15,-6.00" transform="translate(1113.20,95.30) rotate(90)" stroke="#ffcc00" stroke-width="3.00" fill="none" stroke-linecap="round" stroke-linejoin="round"/>
<path d="M-15.10,-14.00 -15.10,-0.00M-10.79,-14.00 -10.79,-0.00M-10.79,-14.00 -1.35,-0.00M-1.35,-14.00 -1.35,-0.00M9.03,-12.00 9.03,-0.00M2.97,-6.00 15.10,-6.00" transform="translate(1113.20,258.70) rotate(90)" stroke="#ffcc00" stroke-width="3.00" fill="none" stroke-linecap="round" stroke-linejoin="round"/>
<path d="M-23.48,-14.00 -24.84,-13.33 -26.19,-12.00 -26.87,-10.67 -27.55,-8.67 -27.55,-5.33 -26.87,-3.33 -26.19,-2.00 -24.84,-0.67 -23.48,-0.00 -20.76,-0.00 -19.41,-0.67 -18.05,-2.00 -17.37,-3.33 -16.69,-5.33 -16.69,-8.67 -17.37,-10.67 -18.05,-12.00 -19.41,-13.33 -20.76,-14.00 -23.48,-14.00M-12.35,-14.00 -12.35,-4.00 -11.67,-2.00 -10.31,-0.67 -8.28,-0.00 -6.92,-0.00 -4.89,-0.67 -3.53,-2.00 -2.85,-4.00 -2.85,-14.00M6.24,-14.00 6.24,-0.00M1.49,-14.00 10.99,-14.00M15.34,-6.00 27.55,-6.00" transform="translate(1333.30,93.00) rotate(90)" stroke="#ffcc00" stroke-width="3.00" fill="none" stroke-linecap="round" stroke-linejoin="round"/>
<path d="M-23.22,-14.00 -24.57,-13.33 -25.91,-12.00 -26.58,-10.67 -27.25,-8.67 -27.25,-5.33 -26.58,-3.33 -25.91,-2.00 -24.57,-0.67 -23.22,-0.00 -20.54,-0.00 -19.20,-0.67 -17.85,-2.00 -17.18,-3.33 -16.51,-5.33 -16.51,-8.67 -17.18,-10.67 -17.85,-12.00 -19.20,-13.33 -20.54,-14.00 -23.22,-14.00M-12.22,-14.00 -12.22,-4.00 -11.54,-2.00 -10.20,-0.67 -8.19,-0.00 -6.85,-0.00 -4.83,-0.67 -3.49,-2.00 -2.82,-4.00 -2.82,-14.00M6.17,-14.00 6.17,-0.00M1.48,-14.00 10.87,-14.00M21.21,-12.00 21.21,-0.00M15.17,-6.00 27.25,-6.00" transform="translate(1333.70,260.10) rotate(90)" stroke="#ffcc00" stroke-width="3.00" fill="none" stroke-linecap="round" stroke-linejoin="round"/>
<path d="M-6.89,-15.20 -6.89,-3.62 -6.20,-1.45 -5.51,-0.72 -4.13,-0.00 -2.75,-0.00 -1.38,-0.72 -0.69,-1.45 -0.00,-3.62 -0.00,-5.07M-11.29,-15.20 -11.29,-0.00M-11.29,-0.00 -19.56,-0.00M-34.29,-11.58 -33.61,-13.03 -32.23,-14.48 -30.85,-15.20 -28.10,-15.20 -26.72,-14.48 -25.34,-13.03 -24.65,-11.58 -23.96,-9.41 -23.96,-5.79 -24.65,-3.62 -25.34,-2.17 -26.72,-0.72 -28.10,-0.00 -30.85,-0.00 -32.23,-0.72 -33.61,-2.17 -34.29,-3.62M-45.59,-15.20 -45.59,-3.62 -44.90,-1.45 -44.21,-0.72 -42.83,-0.00 -41.46,-0.00 -40.08,-0.72 -39.39,-1.45 -38.70,-3.62 -38.70,-5.07M-50.00,-15.20 -50.00,-0.00M-50.00,-0.00 -58.26,-0.00M-73.00,-11.58 -72.31,-13.03 -70.93,-14.48 -69.55,-15.20 -66.80,-15.20 -65.42,-14.48 -64.04,-13.03 -63.36,-11.58 -62.67,-9.41 -62.67,-5.79 -63.36,-3.62 -64.04,-2.17 -65.42,-0.72 -66.80,-0.00 -69.55,-0.00 -70.93,-0.72 -72.31,-2.17 -73.00,-3.62M-84.29,-15.20 -84.29,-3.62 -83.60,-1.45 -82.91,-0.72 -81.54,-0.00 -80.16,-0.00 -78.78,-0.72 -78.09,-1.45 -77.40,-3.62 -77.40,-5.07M-88.70,-15.20 -88.70,-0.00M-88.70,-0.00 -96.96,-0.00M-111.70,-11.58 -111.01,-13.03 -109.63,-14.48 -108.25,-15.20 -105.50,-15.20 -104.12,-14.48 -102.75,-13.03 -102.06,-11.58 -101.37,-9.41 -101.37,-5.79 -102.06,-3.62 -102.75,-2.17 -104.12,-0.72 -105.50,-0.00 -108.25,-0.00 -109.63,-0.72 -111.01,-2.17 -111.70,-3.62M-122.99,-15.20 -122.99,-3.62 -122.30,-1.45 -121.61,-0.72 -120.24,-0.00 -118.86,-0.00 -117.48,-0.72 -116.79,-1.45 -116.11,-3.62 -116.11,-5.07M-127.40,-15.20 -127.40,-0.00M-127.40,-0.00 -135.66,-0.00M-150.40,-11.58 -149.71,-13.03 -148.33,-14.48 -146.96,-15.20 -144.20,-15.20 -142.82,-14.48 -141.45,-13.03 -140.76,-11.58 -140.07,-9.41 -140.07,-5.79 -140.76,-3.62 -141.45,-2.17 -142.82,-0.72 -144.20,-0.00 -146.96,-0.00 -148.33,-0.72 -149.71,-2.17 -150.40,-3.62" transform="translate(1399.90,721.40)" stroke="#3b7c23" stroke-width="2.40" fill="none" stroke-linecap="round" stroke-linejoin="round"/>
<rect x="163.20" y="59.30" width="26.80" height="26.80" fill="#480a5c"/>
<rect x="163.80" y="59.90" width="25.60" height="25.60" fill="#646464"/>
<circle cx="176.6" cy="72.7" r="7.40" fill="#262626"/>
<circle cx="176.6" cy="411.5" r="13.35" fill="#480a5c"/>
<circle cx="176.6" cy="411.5" r="12.65" fill="#646464"/>
<circle cx="176.6" cy="411.5" r="7.40" fill="#262626"/>
<circle cx="214.6" cy="72.7" r="13.35" fill="#480a5c"/>
<circle cx="214.6" cy="72.7" r="12.65" fill="#646464"/>
<circle cx="214.6" cy="72.7" r="7.40" fill="#262626"/>
<circle cx="214.6" cy="411.5" r="13.35" fill="#480a5c"/>
<circle cx="214.6" cy="411.5" r="12.65" fill="#646464"/>
<circle cx="214.6" cy="411.5" r="7.40" fill="#262626"/>
<circle cx="252.6" cy="72.7" r="13.35" fill="#480a5c"/>
<circle cx="252.6" cy="72.7" r="12.65" fill="#646464"/>
<circle cx="252.6" cy="72.7" r="7.40" fill="#262626"/>
<circle cx="252.6" cy="411.5" r="13.35" fill="#480a5c"/>
<circle cx="252.6" cy="411.5" r="12.65" fill="#646464"/>
<circle cx="252.6" cy="411.5" r="7.40" fill="#262626"/>
<circle cx="290.6" cy="72.7" r="13.35" fill="#480a5c"/>
<circle cx="290.6" cy="72.7" r="12.65" fill="#646464"/>
<circle cx="290.6" cy="72.7" r="7.40" fill="#262626"/>
<circle cx="290.6" cy="411.5" r="13.35" fill="#480a5c"/>
<circle cx="290.6" cy="411.5" r="12.65" fill="#646464"/>
<circle cx="290.6" cy="411.5" r="7.40" fill="#262626"/>
<circle cx="328.6" cy="72.7" r="13.35" fill="#480a5c"/>
<circle cx="328.6" cy="72.7" r="12.65" fill="#646464"/>
<circle cx="328.6" cy="72.7" r="7.40" fill="#262626"/>
<circle cx="328.6" cy="411.5" r="13.35" fill="#480a5c"/>
<circle cx="328.6" cy="411.5" r="12.65" fill="#646464"/>
<circle cx="328.6" cy="411.5" r="7.40" fill="#262626"/>
<circle cx="366.6" cy="72.7" r="13.35" fill="#480a5c"/>
<circle cx="366.6" cy="72.7" r="12.65" fill="#646464"/>
<circle cx="366.6" cy="72.7" r="7.40" fill="#262626"/>
<circle cx="366.6" cy="411.5" r="13.35" fill="#480a5c"/>
<circle cx="366.6" cy="411.5" r="12.65" fill="#646464"/>
<circle cx="366.6" cy="411.5" r="7.40" fill="#262626"/>
<rect x="391.20" y="59.30" width="26.80" height="26.80" fill="#480a5c"/>
<rect x="391.80" y="59.90" width="25.60" height="25.60" fill="#646464"/>
<circle cx="404.6" cy="72.7" r="7.40" fill="#262626"/>
<circle cx="404.6" cy="411.5" r="13.35" fill="#480a5c"/>
<circle cx="404.6" cy="411.5" r="12.65" fill="#646464"/>
<circle cx="404.6" cy="411.5" r="7.40" fill="#262626"/>
<circle cx="442.6" cy="72.7" r="13.35" fill="#480a5c"/>
<circle cx="442.6" cy="72.7" r="12.65" fill="#646464"/>
<circle cx="442.6" cy="72.7" r="7.40" fill="#262626"/>
<circle cx="442.6" cy="411.5" r="13.35" fill="#480a5c"/>
<circle cx="442.6" cy="411.5" r="12.65" fill="#646464"/>
<circle cx="442.6" cy="411.5" r="7.40" fill="#262626"/>
<circle cx="480.6" cy="72.7" r="13.35" fill="#480a5c"/>
<circle cx="480.6" cy="72.7" r="12.65" fill="#646464"/>
<circle cx="480.6" cy="72.7" r="7.40" fill="#262626"/>
<circle cx="480.6" cy="411.5" r="13.35" fill="#480a5c"/>
<circle cx="480.6" cy="411.5" r="12.65" fill="#646464"/>
<circle cx="480.6" cy="411.5" r="7.40" fill="#262626"/>
<circle cx="518.6" cy="72.7" r="13.35" fill="#480a5c"/>
<circle cx="518.6" cy="72.7" r="12.65" fill="#646464"/>
<circle cx="518.6" cy="72.7" r="7.40" fill="#262626"/>
<circle cx="518.6" cy="411.5" r="13.35" fill="#480a5c"/>
<circle cx="518.6" cy="411.5" r="12.65" fill="#646464"/>
<circle cx="518.6" cy="411.5" r="7.40" fill="#262626"/>
<circle cx="556.6" cy="72.7" r="13.35" fill="#480a5c"/>
<circle cx="556.6" cy="72.7" r="12.65" fill="#646464"/>
<circle cx="556.6" cy="72.7" r="7.40" fill="#262626"/>
<circle cx="556.6" cy="411.5" r="13.35" fill="#480a5c"/>
<circle cx="556.6" cy="411.5" r="12.65" fill="#646464"/>
<circle cx="556.6" cy="411.5" r="7.40" fill="#262626"/>
<circle cx="594.6" cy="72.7" r="13.35" fill="#480a5c"/>
<circle cx="594.6" cy="72.7" r="12.65" fill="#646464"/>
<circle cx="594.6" cy="72.7" r="7.40" fill="#262626"/>
<circle cx="594.6" cy="411.5" r="13.35" fill="#480a5c"/>
<circle cx="594.6" cy="411.5" r="12.65" fill="#646464"/>
<circle cx="594.6" cy="411.5" r="7.40" fill="#262626"/>
<circle cx="632.6" cy="72.7" r="13.35" fill="#480a5c"/>
<circle cx="632.6" cy="72.7" r="12.65" fill="#646464"/>
<circle cx="632.6" cy="72.7" r="7.40" fill="#262626"/>
<circle cx="632.6" cy="411.5" r="13.35" fill="#480a5c"/>
<circle cx="632.6" cy="411.5" r="12.65" fill="#646464"/>
<circle cx="632.6" cy="411.5" r="7.40" fill="#262626"/>
<circle cx="670.6" cy="72.7" r="13.35" fill="#480a5c"/>
<circle cx="670.6" cy="72.7" r="12.65" fill="#646464"/>
<circle cx="670.6" cy="72.7" r="7.40" fill="#262626"/>
<rect x="657.20" y="398.10" width="26.80" height="26.80" fill="#480a5c"/>
<rect x="657.80" y="398.70" width="25.60" height="25.60" fill="#646464"/>
<circle cx="670.6" cy="411.5" r="7.40" fill="#262626"/>
<circle cx="708.6" cy="72.7" r="13.35" fill="#480a5c"/>
<circle cx="708.6" cy="72.7" r="12.65" fill="#646464"/>
<circle cx="708.6" cy="72.7" r="7.40" fill="#262626"/>
<circle cx="708.6" cy="411.5" r="13.35" fill="#480a5c"/>
<circle cx="708.6" cy="411.5" r="12.65" fill="#646464"/>
<circle cx="708.6" cy="411.5" r="7.40" fill="#262626"/>
<circle cx="746.6" cy="72.7" r="13.35" fill="#480a5c"/>
<circle cx="746.6" cy="72.7" r="12.65" fill="#646464"/>
<circle cx="746.6" cy="72.7" r="7.40" fill="#262626"/>
<circle cx="746.6" cy="411.5" r="13.35" fill="#480a5c"/>
<circle cx="746.6" cy="411.5" r="12.65" fill="#646464"/>
<circle cx="746.6" cy="411.5" r="7.40" fill="#262626"/>
<circle cx="784.6" cy="72.7" r="13.35" fill="#480a5c"/>
<circle cx="784.6" cy="72.7" r="12.65" fill="#646464"/>
<circle cx="784.6" cy="72.7" r="7.40" fill="#262626"/>
<circle cx="784.6" cy="411.5" r="13.35" fill="#480a5c"/>
<circle cx="784.6" cy="411.5" r="12.65" fill="#646464"/>
<circle cx="784.6" cy="411.5" r="7.40" fill="#262626"/>
<circle cx="822.6" cy="72.7" r="13.35" fill="#480a5c"/>
<circle cx="822.6" cy="72.7" r="12.65" fill="#646464"/>
<circle cx="822.6" cy="72.7" r="7.40" fill="#262626"/>
<circle cx="822.6" cy="411.5" r="13.35" fill="#480a5c"/>
<circle cx="822.6" cy="411.5" r="12.65" fill="#646464"/>
<circle cx="822.6" cy="411.5" r="7.40" fill="#262626"/>
<circle cx="860.6" cy="72.7" r="13.35" fill="#480a5c"/>
<circle cx="860.6" cy="72.7" r="12.65" fill="#646464"/>
<circle cx="860.6" cy="72.7" r="7.40" fill="#262626"/>
<circle cx="860.6" cy="411.5" r="13.35" fill="#480a5c"/>
<circle cx="860.6" cy="411.5" r="12.65" fill="#646464"/>
<circle cx="860.6" cy="411.5" r="7.40" fill="#262626"/>
<circle cx="131.0" cy="529.5" r="14.10" fill="#480a5c"/>
<circle cx="131.0" cy="529.5" r="12.40" fill="#646464"/>
<circle cx="131.0" cy="529.5" r="7.50" fill="#262626"/>
<circle cx="131.0" cy="567.4" r="14.10" fill="#480a5c"/>
<circle cx="131.0" cy="567.4" r="12.40" fill="#646464"/>
<circle cx="131.0" cy="567.4" r="7.50" fill="#262626"/>
<circle cx="131.0" cy="605.4" r="14.10" fill="#480a5c"/>
<circle cx="131.0" cy="605.4" r="12.40" fill="#646464"/>
<circle cx="131.0" cy="605.4" r="7.50" fill="#262626"/>
<rect x="118.10" y="630.80" width="25.80" height="25.80" fill="#480a5c"/>
<rect x="119.20" y="631.90" width="23.60" height="23.60" fill="#646464"/>
<circle cx="131.0" cy="643.7" r="7.50" fill="#262626"/>
<path d="M88.1,556.2L110.5,578.6M88.1,578.6L110.5,556.2" stroke="#606060" stroke-width="2.8" stroke-linecap="round"/>
<circle cx="99.3" cy="567.4" r="7.8" fill="#262626" stroke="#606060" stroke-width="1.6"/>
<circle cx="243.2" cy="529.5" r="14.10" fill="#480a5c"/>
<circle cx="243.2" cy="529.5" r="12.40" fill="#646464"/>
<circle cx="243.2" cy="529.5" r="7.50" fill="#262626"/>
<circle cx="243.2" cy="567.4" r="14.10" fill="#480a5c"/>
<circle cx="243.2" cy="567.4" r="12.40" fill="#646464"/>
<circle cx="243.2" cy="567.4" r="7.50" fill="#262626"/>
<circle cx="243.2" cy="605.4" r="14.10" fill="#480a5c"/>
<circle cx="243.2" cy="605.4" r="12.40" fill="#646464"/>
<circle cx="243.2" cy="605.4" r="7.50" fill="#262626"/>
<rect x="230.30" y="630.80" width="25.80" height="25.80" fill="#480a5c"/>
<rect x="231.40" y="631.90" width="23.60" height="23.60" fill="#646464"/>
<circle cx="243.2" cy="643.7" r="7.50" fill="#262626"/>
<path d="M200.3,556.2L222.7,578.6M200.3,578.6L222.7,556.2" stroke="#606060" stroke-width="2.8" stroke-linecap="round"/>
<circle cx="211.5" cy="567.4" r="7.8" fill="#262626" stroke="#606060" stroke-width="1.6"/>
<circle cx="355.4" cy="529.5" r="14.10" fill="#480a5c"/>
<circle cx="355.4" cy="529.5" r="12.40" fill="#646464"/>
<circle cx="355.4" cy="529.5" r="7.50" fill="#262626"/>
<circle cx="355.4" cy="567.4" r="14.10" fill="#480a5c"/>
<circle cx="355.4" cy="567.4" r="12.40" fill="#646464"/>
<circle cx="355.4" cy="567.4" r="7.50" fill="#262626"/>
<circle cx="355.4" cy="605.4" r="14.10" fill="#480a5c"/>
<circle cx="355.4" cy="605.4" r="12.40" fill="#646464"/>
<circle cx="355.4" cy="605.4" r="7.50" fill="#262626"/>
<rect x="342.50" y="630.80" width="25.80" height="25.80" fill="#480a5c"/>
<rect x="343.60" y="631.90" width="23.60" height="23.60" fill="#646464"/>
<circle cx="355.4" cy="643.7" r="7.50" fill="#262626"/>
<path d="M312.5,556.2L334.9,578.6M312.5,578.6L334.9,556.2" stroke="#606060" stroke-width="2.8" stroke-linecap="round"/>
<circle cx="323.7" cy="567.4" r="7.8" fill="#262626" stroke="#606060" stroke-width="1.6"/>
<circle cx="467.6" cy="529.5" r="14.10" fill="#480a5c"/>
<circle cx="467.6" cy="529.5" r="12.40" fill="#646464"/>
<circle cx="467.6" cy="529.5" r="7.50" fill="#262626"/>
<circle cx="467.6" cy="567.4" r="14.10" fill="#480a5c"/>
<circle cx="467.6" cy="567.4" r="12.40" fill="#646464"/>
<circle cx="467.6" cy="567.4" r="7.50" fill="#262626"/>
<circle cx="467.6" cy="605.4" r="14.10" fill="#480a5c"/>
<circle cx="467.6" cy="605.4" r="12.40" fill="#646464"/>
<circle cx="467.6" cy="605.4" r="7.50" fill="#262626"/>
<rect x="454.70" y="630.80" width="25.80" height="25.80" fill="#480a5c"/>
<rect x="455.80" y="631.90" width="23.60" height="23.60" fill="#646464"/>
<circle cx="467.6" cy="643.7" r="7.50" fill="#262626"/>
<path d="M424.7,556.2L447.1,578.6M424.7,578.6L447.1,556.2" stroke="#606060" stroke-width="2.8" stroke-linecap="round"/>
<circle cx="435.9" cy="567.4" r="7.8" fill="#262626" stroke="#606060" stroke-width="1.6"/>
<circle cx="579.8" cy="529.5" r="14.10" fill="#480a5c"/>
<circle cx="579.8" cy="529.5" r="12.40" fill="#646464"/>
<circle cx="579.8" cy="529.5" r="7.50" fill="#262626"/>
<circle cx="579.8" cy="567.4" r="14.10" fill="#480a5c"/>
<circle cx="579.8" cy="567.4" r="12.40" fill="#646464"/>
<circle cx="579.8" cy="567.4" r="7.50" fill="#262626"/>
<circle cx="579.8" cy="605.4" r="14.10" fill="#480a5c"/>
<circle cx="579.8" cy="605.4" r="12.40" fill="#646464"/>
<circle cx="579.8" cy="605.4" r="7.50" fill="#262626"/>
<rect x="566.90" y="630.80" width="25.80" height="25.80" fill="#480a5c"/>
<rect x="568.00" y="631.90" width="23.60" height="23.60" fill="#646464"/>
<circle cx="579.8" cy="643.7" r="7.50" fill="#262626"/>
<path d="M536.9,556.2L559.3,578.6M536.9,578.6L559.3,556.2" stroke="#606060" stroke-width="2.8" stroke-linecap="round"/>
<circle cx="548.1" cy="567.4" r="7.8" fill="#262626" stroke="#606060" stroke-width="1.6"/>
<circle cx="692.0" cy="529.5" r="14.10" fill="#480a5c"/>
<circle cx="692.0" cy="529.5" r="12.40" fill="#646464"/>
<circle cx="692.0" cy="529.5" r="7.50" fill="#262626"/>
<circle cx="692.0" cy="567.4" r="14.10" fill="#480a5c"/>
<circle cx="692.0" cy="567.4" r="12.40" fill="#646464"/>
<circle cx="692.0" cy="567.4" r="7.50" fill="#262626"/>
<circle cx="692.0" cy="605.4" r="14.10" fill="#480a5c"/>
<circle cx="692.0" cy="605.4" r="12.40" fill="#646464"/>
<circle cx="692.0" cy="605.4" r="7.50" fill="#262626"/>
<rect x="679.10" y="630.80" width="25.80" height="25.80" fill="#480a5c"/>
<rect x="680.20" y="631.90" width="23.60" height="23.60" fill="#646464"/>
<circle cx="692.0" cy="643.7" r="7.50" fill="#262626"/>
<path d="M649.1,556.2L671.5,578.6M649.1,578.6L671.5,556.2" stroke="#606060" stroke-width="2.8" stroke-linecap="round"/>
<circle cx="660.3" cy="567.4" r="7.8" fill="#262626" stroke="#606060" stroke-width="1.6"/>
<circle cx="804.2" cy="529.5" r="14.10" fill="#480a5c"/>
<circle cx="804.2" cy="529.5" r="12.40" fill="#646464"/>
<circle cx="804.2" cy="529.5" r="7.50" fill="#262626"/>
<circle cx="804.2" cy="567.4" r="14.10" fill="#480a5c"/>
<circle cx="804.2" cy="567.4" r="12.40" fill="#646464"/>
<circle cx="804.2" cy="567.4" r="7.50" fill="#262626"/>
<circle cx="804.2" cy="605.4" r="14.10" fill="#480a5c"/>
<circle cx="804.2" cy="605.4" r="12.40" fill="#646464"/>
<circle cx="804.2" cy="605.4" r="7.50" fill="#262626"/>
<rect x="791.30" y="630.80" width="25.80" height="25.80" fill="#480a5c"/>
<rect x="792.40" y="631.90" width="23.60" height="23.60" fill="#646464"/>
<circle cx="804.2" cy="643.7" r="7.50" fill="#262626"/>
<path d="M761.3,556.2L783.7,578.6M761.3,578.6L783.7,556.2" stroke="#606060" stroke-width="2.8" stroke-linecap="round"/>
<circle cx="772.5" cy="567.4" r="7.8" fill="#262626" stroke="#606060" stroke-width="1.6"/>
<circle cx="916.4" cy="529.5" r="14.10" fill="#480a5c"/>
<circle cx="916.4" cy="529.5" r="12.40" fill="#646464"/>
<circle cx="916.4" cy="529.5" r="7.50" fill="#262626"/>
<circle cx="916.4" cy="567.4" r="14.10" fill="#480a5c"/>
<circle cx="916.4" cy="567.4" r="12.40" fill="#646464"/>
<circle cx="916.4" cy="567.4" r="7.50" fill="#262626"/>
<circle cx="916.4" cy="605.4" r="14.10" fill="#480a5c"/>
<circle cx="916.4" cy="605.4" r="12.40" fill="#646464"/>
<circle cx="916.4" cy="605.4" r="7.50" fill="#262626"/>
<rect x="903.50" y="630.80" width="25.80" height="25.80" fill="#480a5c"/>
<rect x="904.60" y="631.90" width="23.60" height="23.60" fill="#646464"/>
<circle cx="916.4" cy="643.7" r="7.50" fill="#262626"/>
<path d="M873.5,556.2L895.9,578.6M873.5,578.6L895.9,556.2" stroke="#606060" stroke-width="2.8" stroke-linecap="round"/>
<circle cx="884.7" cy="567.4" r="7.8" fill="#262626" stroke="#606060" stroke-width="1.6"/>
<circle cx="173.55" cy="510.15" r="3.3" fill="#2e2e2e" stroke="#636363" stroke-width="1.9"/>
<circle cx="173.55" cy="517.45" r="3.3" fill="#2e2e2e" stroke="#636363" stroke-width="1.9"/>
<circle cx="180.85" cy="510.15" r="3.3" fill="#2e2e2e" stroke="#636363" stroke-width="1.9"/>
<circle cx="180.85" cy="517.45" r="3.3" fill="#2e2e2e" stroke="#636363" stroke-width="1.9"/>
<circle cx="173.55" cy="542.35" r="3.3" fill="#2e2e2e" stroke="#636363" stroke-width="1.9"/>
<circle cx="173.55" cy="549.65" r="3.3" fill="#2e2e2e" stroke="#636363" stroke-width="1.9"/>
<circle cx="180.85" cy="542.35" r="3.3" fill="#2e2e2e" stroke="#636363" stroke-width="1.9"/>
<circle cx="180.85" cy="549.65" r="3.3" fill="#2e2e2e" stroke="#636363" stroke-width="1.9"/>
<circle cx="285.75" cy="510.15" r="3.3" fill="#2e2e2e" stroke="#636363" stroke-width="1.9"/>
<circle cx="285.75" cy="517.45" r="3.3" fill="#2e2e2e" stroke="#636363" stroke-width="1.9"/>
<circle cx="293.05" cy="510.15" r="3.3" fill="#2e2e2e" stroke="#636363" stroke-width="1.9"/>
<circle cx="293.05" cy="517.45" r="3.3" fill="#2e2e2e" stroke="#636363" stroke-width="1.9"/>
<circle cx="285.75" cy="542.35" r="3.3" fill="#2e2e2e" stroke="#636363" stroke-width="1.9"/>
<circle cx="285.75" cy="549.65" r="3.3" fill="#2e2e2e" stroke="#636363" stroke-width="1.9"/>
<circle cx="293.05" cy="542.35" r="3.3" fill="#2e2e2e" stroke="#636363" stroke-width="1.9"/>
<circle cx="293.05" cy="549.65" r="3.3" fill="#2e2e2e" stroke="#636363" stroke-width="1.9"/>
<circle cx="397.95" cy="510.15" r="3.3" fill="#2e2e2e" stroke="#636363" stroke-width="1.9"/>
<circle cx="397.95" cy="517.45" r="3.3" fill="#2e2e2e" stroke="#636363" stroke-width="1.9"/>
<circle cx="405.25" cy="510.15" r="3.3" fill="#2e2e2e" stroke="#636363" stroke-width="1.9"/>
<circle cx="405.25" cy="517.45" r="3.3" fill="#2e2e2e" stroke="#636363" stroke-width="1.9"/>
<circle cx="397.95" cy="542.35" r="3.3" fill="#2e2e2e" stroke="#636363" stroke-width="1.9"/>
<circle cx="397.95" cy="549.65" r="3.3" fill="#2e2e2e" stroke="#636363" stroke-width="1.9"/>
<circle cx="405.25" cy="542.35" r="3.3" fill="#2e2e2e" stroke="#636363" stroke-width="1.9"/>
<circle cx="405.25" cy="549.65" r="3.3" fill="#2e2e2e" stroke="#636363" stroke-width="1.9"/>
<circle cx="510.15" cy="510.15" r="3.3" fill="#2e2e2e" stroke="#636363" stroke-width="1.9"/>
<circle cx="510.15" cy="517.45" r="3.3" fill="#2e2e2e" stroke="#636363" stroke-width="1.9"/>
<circle cx="517.45" cy="510.15" r="3.3" fill="#2e2e2e" stroke="#636363" stroke-width="1.9"/>
<circle cx="517.45" cy="517.45" r="3.3" fill="#2e2e2e" stroke="#636363" stroke-width="1.9"/>
<circle cx="510.15" cy="542.35" r="3.3" fill="#2e2e2e" stroke="#636363" stroke-width="1.9"/>
<circle cx="510.15" cy="549.65" r="3.3" fill="#2e2e2e" stroke="#636363" stroke-width="1.9"/>
<circle cx="517.45" cy="542.35" r="3.3" fill="#2e2e2e" stroke="#636363" stroke-width="1.9"/>
<circle cx="517.45" cy="549.65" r="3.3" fill="#2e2e2e" stroke="#636363" stroke-width="1.9"/>
<circle cx="622.35" cy="510.15" r="3.3" fill="#2e2e2e" stroke="#636363" stroke-width="1.9"/>
<circle cx="622.35" cy="517.45" r="3.3" fill="#2e2e2e" stroke="#636363" stroke-width="1.9"/>
<circle cx="629.65" cy="510.15" r="3.3" fill="#2e2e2e" stroke="#636363" stroke-width="1.9"/>
<circle cx="629.65" cy="517.45" r="3.3" fill="#2e2e2e" stroke="#636363" stroke-width="1.9"/>
<circle cx="622.35" cy="542.35" r="3.3" fill="#2e2e2e" stroke="#636363" stroke-width="1.9"/>
<circle cx="622.35" cy="549.65" r="3.3" fill="#2e2e2e" stroke="#636363" stroke-width="1.9"/>
<circle cx="629.65" cy="542.35" r="3.3" fill="#2e2e2e" stroke="#636363" stroke-width="1.9"/>
<circle cx="629.65" cy="549.65" r="3.3" fill="#2e2e2e" stroke="#636363" stroke-width="1.9"/>
<circle cx="734.55" cy="510.15" r="3.3" fill="#2e2e2e" stroke="#636363" stroke-width="1.9"/>
<circle cx="734.55" cy="517.45" r="3.3" fill="#2e2e2e" stroke="#636363" stroke-width="1.9"/>
<circle cx="741.85" cy="510.15" r="3.3" fill="#2e2e2e" stroke="#636363" stroke-width="1.9"/>
<circle cx="741.85" cy="517.45" r="3.3" fill="#2e2e2e" stroke="#636363" stroke-width="1.9"/>
<circle cx="734.55" cy="542.35" r="3.3" fill="#2e2e2e" stroke="#636363" stroke-width="1.9"/>
<circle cx="734.55" cy="549.65" r="3.3" fill="#2e2e2e" stroke="#636363" stroke-width="1.9"/>
<circle cx="741.85" cy="542.35" r="3.3" fill="#2e2e2e" stroke="#636363" stroke-width="1.9"/>
<circle cx="741.85" cy="549.65" r="3.3" fill="#2e2e2e" stroke="#636363" stroke-width="1.9"/>
<circle cx="846.75" cy="510.15" r="3.3" fill="#2e2e2e" stroke="#636363" stroke-width="1.9"/>
<circle cx="846.75" cy="517.45" r="3.3" fill="#2e2e2e" stroke="#636363" stroke-width="1.9"/>
<circle cx="854.05" cy="510.15" r="3.3" fill="#2e2e2e" stroke="#636363" stroke-width="1.9"/>
<circle cx="854.05" cy="517.45" r="3.3" fill="#2e2e2e" stroke="#636363" stroke-width="1.9"/>
<circle cx="846.75" cy="542.35" r="3.3" fill="#2e2e2e" stroke="#636363" stroke-width="1.9"/>
<circle cx="846.75" cy="549.65" r="3.3" fill="#2e2e2e" stroke="#636363" stroke-width="1.9"/>
<circle cx="854.05" cy="542.35" r="3.3" fill="#2e2e2e" stroke="#636363" stroke-width="1.9"/>
<circle cx="854.05" cy="549.65" r="3.3" fill="#2e2e2e" stroke="#636363" stroke-width="1.9"/>
<circle cx="958.95" cy="510.15" r="3.3" fill="#2e2e2e" stroke="#636363" stroke-width="1.9"/>
<circle cx="958.95" cy="517.45" r="3.3" fill="#2e2e2e" stroke="#636363" stroke-width="1.9"/>
<circle cx="966.25" cy="510.15" r="3.3" fill="#2e2e2e" stroke="#636363" stroke-width="1.9"/>
<circle cx="966.25" cy="517.45" r="3.3" fill="#2e2e2e" stroke="#636363" stroke-width="1.9"/>
<circle cx="958.95" cy="542.35" r="3.3" fill="#2e2e2e" stroke="#636363" stroke-width="1.9"/>
<circle cx="958.95" cy="549.65" r="3.3" fill="#2e2e2e" stroke="#636363" stroke-width="1.9"/>
<circle cx="966.25" cy="542.35" r="3.3" fill="#2e2e2e" stroke="#636363" stroke-width="1.9"/>
<circle cx="966.25" cy="549.65" r="3.3" fill="#2e2e2e" stroke="#636363" stroke-width="1.9"/>
<circle cx="1030.65" cy="160.25" r="3.3" fill="#2e2e2e" stroke="#636363" stroke-width="1.9"/>
<circle cx="1030.65" cy="167.55" r="3.3" fill="#2e2e2e" stroke="#636363" stroke-width="1.9"/>
<circle cx="1037.95" cy="160.25" r="3.3" fill="#2e2e2e" stroke="#636363" stroke-width="1.9"/>
<circle cx="1037.95" cy="167.55" r="3.3" fill="#2e2e2e" stroke="#636363" stroke-width="1.9"/>
<circle cx="1030.65" cy="205.25" r="3.3" fill="#2e2e2e" stroke="#636363" stroke-width="1.9"/>
<circle cx="1030.65" cy="212.55" r="3.3" fill="#2e2e2e" stroke="#636363" stroke-width="1.9"/>
<circle cx="1037.95" cy="205.25" r="3.3" fill="#2e2e2e" stroke="#636363" stroke-width="1.9"/>
<circle cx="1037.95" cy="212.55" r="3.3" fill="#2e2e2e" stroke="#636363" stroke-width="1.9"/>
<circle cx="964.85" cy="325.55" r="3.3" fill="#2e2e2e" stroke="#636363" stroke-width="1.9"/>
<circle cx="964.85" cy="332.85" r="3.3" fill="#2e2e2e" stroke="#636363" stroke-width="1.9"/>
<circle cx="972.15" cy="325.55" r="3.3" fill="#2e2e2e" stroke="#636363" stroke-width="1.9"/>
<circle cx="972.15" cy="332.85" r="3.3" fill="#2e2e2e" stroke="#636363" stroke-width="1.9"/>
<circle cx="964.85" cy="403.15" r="3.3" fill="#2e2e2e" stroke="#636363" stroke-width="1.9"/>
<circle cx="964.85" cy="410.45" r="3.3" fill="#2e2e2e" stroke="#636363" stroke-width="1.9"/>
<circle cx="972.15" cy="403.15" r="3.3" fill="#2e2e2e" stroke="#636363" stroke-width="1.9"/>
<circle cx="972.15" cy="410.45" r="3.3" fill="#2e2e2e" stroke="#636363" stroke-width="1.9"/>
<rect x="1072.20" y="57.10" width="34.20" height="34.20" fill="#480a5c"/>
<rect x="1072.80" y="57.70" width="33.00" height="33.00" fill="#646464"/>
<circle cx="1089.3" cy="74.2" r="7.50" fill="#262626"/>
<rect x="1351.90" y="57.10" width="34.20" height="34.20" fill="#480a5c"/>
<rect x="1352.50" y="57.70" width="33.00" height="33.00" fill="#646464"/>
<circle cx="1369.0" cy="74.2" r="7.50" fill="#262626"/>
<rect x="1072.20" y="95.90" width="34.20" height="34.20" fill="#480a5c"/>
<rect x="1072.80" y="96.50" width="33.00" height="33.00" fill="#646464"/>
<circle cx="1089.3" cy="113.0" r="7.50" fill="#262626"/>
<rect x="1351.90" y="95.90" width="34.20" height="34.20" fill="#480a5c"/>
<rect x="1352.50" y="96.50" width="33.00" height="33.00" fill="#646464"/>
<circle cx="1369.0" cy="113.0" r="7.50" fill="#262626"/>
<rect x="1072.20" y="220.20" width="34.20" height="34.20" fill="#480a5c"/>
<rect x="1072.80" y="220.80" width="33.00" height="33.00" fill="#646464"/>
<circle cx="1089.3" cy="237.3" r="7.50" fill="#262626"/>
<rect x="1351.90" y="220.20" width="34.20" height="34.20" fill="#480a5c"/>
<rect x="1352.50" y="220.80" width="33.00" height="33.00" fill="#646464"/>
<circle cx="1369.0" cy="237.3" r="7.50" fill="#262626"/>
<rect x="1072.20" y="259.00" width="34.20" height="34.20" fill="#480a5c"/>
<rect x="1072.80" y="259.60" width="33.00" height="33.00" fill="#646464"/>
<circle cx="1089.3" cy="276.1" r="7.50" fill="#262626"/>
<rect x="1351.90" y="259.00" width="34.20" height="34.20" fill="#480a5c"/>
<rect x="1352.50" y="259.60" width="33.00" height="33.00" fill="#646464"/>
<circle cx="1369.0" cy="276.1" r="7.50" fill="#262626"/>
<circle cx="1057.1" cy="384.5" r="17.10" fill="#480a5c"/>
<circle cx="1057.1" cy="384.5" r="16.50" fill="#646464"/>
<circle cx="1057.1" cy="384.5" r="7.00" fill="#262626"/>
<circle cx="1221.7" cy="384.5" r="17.10" fill="#480a5c"/>
<circle cx="1221.7" cy="384.5" r="16.50" fill="#646464"/>
<circle cx="1221.7" cy="384.5" r="7.00" fill="#262626"/>
<circle cx="1326.0" cy="346.3" r="14.60" fill="#480a5c"/>
<circle cx="1326.0" cy="346.3" r="13.40" fill="#646464"/>
<circle cx="1326.0" cy="346.3" r="6.00" fill="#262626"/>
<circle cx="1326.0" cy="384.2" r="14.60" fill="#480a5c"/>
<circle cx="1326.0" cy="384.2" r="13.40" fill="#646464"/>
<circle cx="1326.0" cy="384.2" r="6.00" fill="#262626"/>
<circle cx="1408.0" cy="346.3" r="14.60" fill="#480a5c"/>
<circle cx="1408.0" cy="346.3" r="13.40" fill="#646464"/>
<circle cx="1408.0" cy="346.3" r="6.00" fill="#262626"/>
<circle cx="1408.0" cy="384.2" r="14.60" fill="#480a5c"/>
<circle cx="1408.0" cy="384.2" r="13.40" fill="#646464"/>
<circle cx="1408.0" cy="384.2" r="6.00" fill="#262626"/>
<rect x="1313.80" y="455.70" width="25.20" height="15.20" fill="#480a5c"/>
<rect x="1314.40" y="456.30" width="24.00" height="14.00" fill="#646464"/>
<circle cx="1326.4" cy="463.3" r="5.30" fill="#262626"/>
<rect x="1314.4" y="437.3" width="24.0" height="14.0" rx="7.0" fill="#646464" stroke="#480a5c" stroke-width="1"/>
<rect x="1321.1" y="439.0" width="10.6" height="10.6" rx="5.3" fill="#262626"/>
<rect x="1314.4" y="418.3" width="24.0" height="14.0" rx="7.0" fill="#646464" stroke="#480a5c" stroke-width="1"/>
<rect x="1321.1" y="420.0" width="10.6" height="10.6" rx="5.3" fill="#262626"/>
<polygon points="1404.0,414.9 1412.2,414.9 1417.9,420.6 1417.9,428.8 1412.2,434.5 1404.0,434.5 1398.3,428.8 1398.3,420.6" fill="#646464" stroke="#480a5c" stroke-width="1"/>
<circle cx="1408.1" cy="424.7" r="5.80" fill="#262626"/>
<polygon points="1404.0,453.1 1412.2,453.1 1417.9,458.8 1417.9,467.0 1412.2,472.7 1404.0,472.7 1398.3,467.0 1398.3,458.8" fill="#646464" stroke="#480a5c" stroke-width="1"/>
<circle cx="1408.1" cy="462.9" r="5.80" fill="#262626"/>
<circle cx="1049.9" cy="464.3" r="10.40" fill="#480a5c"/>
<circle cx="1049.9" cy="464.3" r="9.70" fill="#646464"/>
<circle cx="1049.9" cy="464.3" r="6.80" fill="#262626"/>
<circle cx="1229.3" cy="464.3" r="10.40" fill="#480a5c"/>
<circle cx="1229.3" cy="464.3" r="9.70" fill="#646464"/>
<circle cx="1229.3" cy="464.3" r="6.80" fill="#262626"/>
<circle cx="1049.9" cy="643.6" r="10.40" fill="#480a5c"/>
<circle cx="1049.9" cy="643.6" r="9.70" fill="#646464"/>
<circle cx="1049.9" cy="643.6" r="6.80" fill="#262626"/>
<circle cx="1229.3" cy="643.6" r="10.40" fill="#480a5c"/>
<circle cx="1229.3" cy="643.6" r="9.70" fill="#646464"/>
<circle cx="1229.3" cy="643.6" r="6.80" fill="#262626"/>
<circle cx="1139.7" cy="674.2" r="10.40" fill="#480a5c"/>
<circle cx="1139.7" cy="674.2" r="9.70" fill="#646464"/>
<circle cx="1139.7" cy="674.2" r="6.80" fill="#262626"/>
<rect x="1338.6" y="518.8" width="59.4" height="27.6" rx="13.8" fill="#646464" stroke="#480a5c" stroke-width="1"/>
<rect x="1345.8" y="525.3" width="45.0" height="14.6" rx="7.3" fill="#262626"/>
<rect x="1308.1" y="569.2" width="30.2" height="67.8" rx="15.1" fill="#646464" stroke="#480a5c" stroke-width="1"/>
<rect x="1315.7" y="577.0" width="15.0" height="52.3" rx="7.5" fill="#262626"/>
<rect x="1399.7" y="573.1" width="27.0" height="60.0" rx="13.5" fill="#646464" stroke="#480a5c" stroke-width="1"/>
<rect x="1405.7" y="580.5" width="15.0" height="45.2" rx="7.5" fill="#262626"/>
<path d="M36.1,36.8L73.5,74.2M36.1,74.2L73.5,36.8" stroke="#606060" stroke-width="2.8" stroke-linecap="round"/>
<circle cx="54.8" cy="55.5" r="15.3" fill="#262626" stroke="#606060" stroke-width="1.8"/>
<path d="M1442.5,36.8L1479.9,74.2M1442.5,74.2L1479.9,36.8" stroke="#606060" stroke-width="2.8" stroke-linecap="round"/>
<circle cx="1461.2" cy="55.5" r="15.3" fill="#262626" stroke="#606060" stroke-width="1.8"/>
<path d="M36.1,695.1L73.5,732.5M36.1,732.5L73.5,695.1" stroke="#606060" stroke-width="2.8" stroke-linecap="round"/>
<circle cx="54.8" cy="713.8" r="15.3" fill="#262626" stroke="#606060" stroke-width="1.8"/>
<path d="M1442.5,695.1L1479.9,732.5M1442.5,732.5L1479.9,695.1" stroke="#606060" stroke-width="2.8" stroke-linecap="round"/>
<circle cx="1461.2" cy="713.8" r="15.3" fill="#262626" stroke="#606060" stroke-width="1.8"/>
</svg>
</body></html>
